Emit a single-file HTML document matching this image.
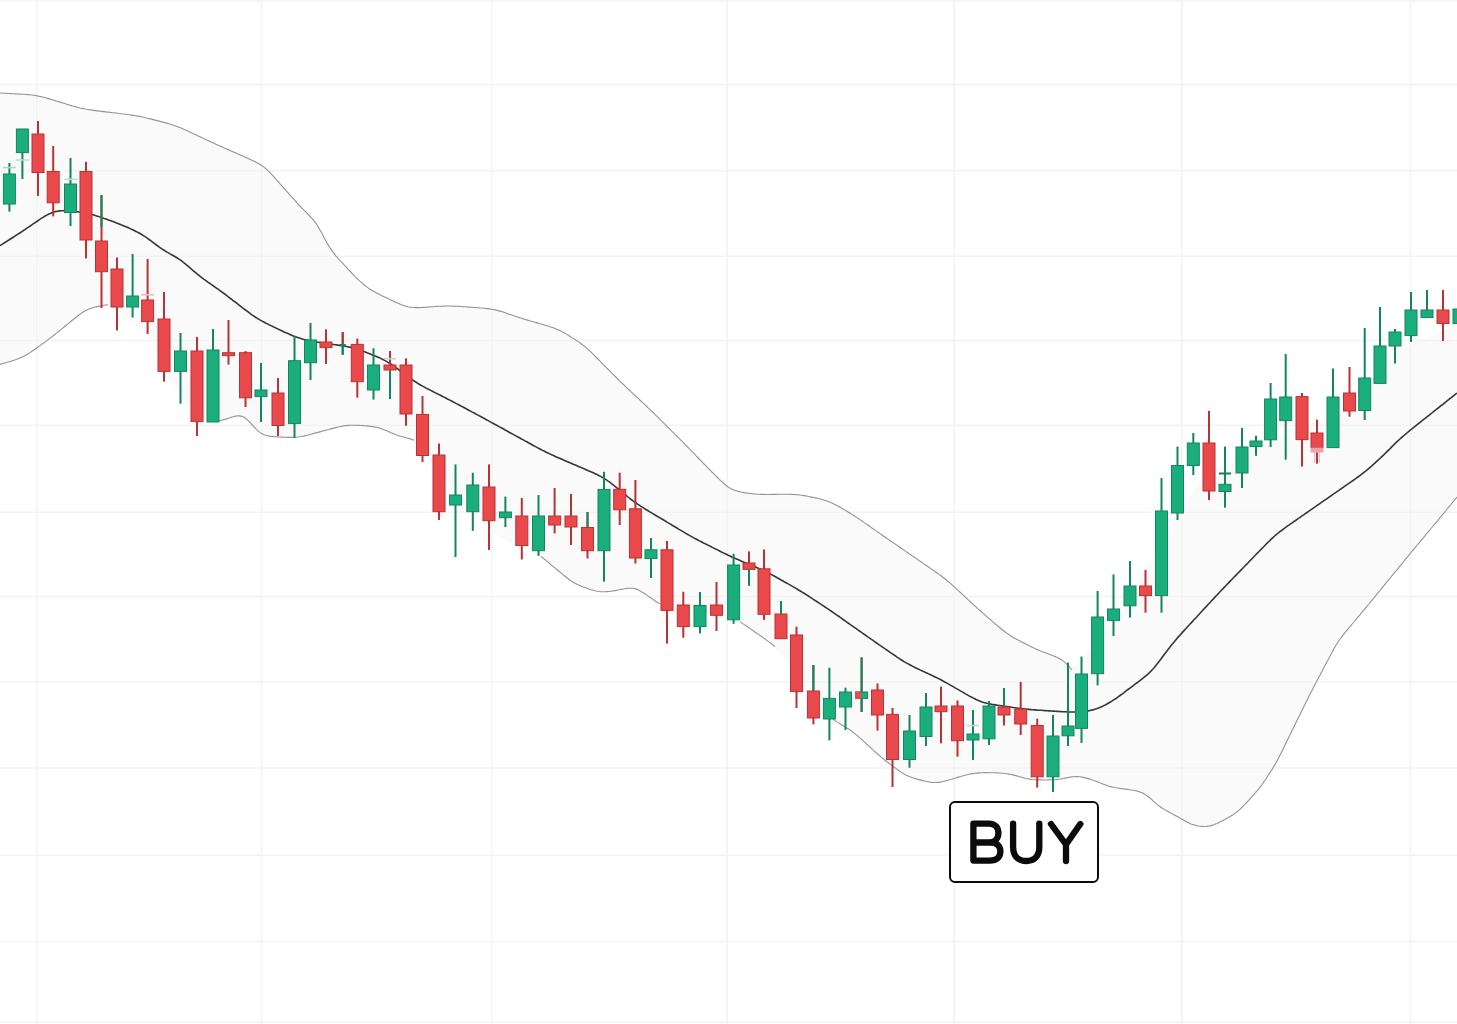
<!DOCTYPE html>
<html><head><meta charset="utf-8"><style>
html,body{margin:0;padding:0;background:#fff;width:1457px;height:1024px;overflow:hidden;position:relative}
.buy{position:absolute;left:949px;top:800.5px;width:150px;height:82px;box-sizing:border-box;border:2.2px solid #0b0b0b;border-radius:6px;background:#fff;}
.buy span{position:absolute;left:0;right:0;top:0;text-align:center;font-family:"Liberation Sans",sans-serif;font-weight:bold;font-size:58px;line-height:78px;color:transparent;}
</style></head><body>
<svg width="1457" height="1024" viewBox="0 0 1457 1024" style="position:absolute;left:0;top:0">
<rect width="1457" height="1024" fill="#ffffff"/>
<path d="M0.0,93.0 L4.3,93.2 L5.6,93.3 L7.0,93.4 L8.6,93.5 L10.4,93.6 L12.2,93.7 L14.1,93.8 L16.1,93.9 L18.0,94.0 L20.0,94.1 L22.0,94.2 L24.0,94.3 L26.0,94.5 L28.0,94.6 L30.0,94.8 L32.0,95.0 L33.9,95.3 L35.9,95.6 L37.8,96.0 L39.8,96.4 L41.7,96.8 L43.7,97.3 L45.6,97.8 L47.5,98.3 L49.4,98.9 L51.4,99.5 L53.3,100.1 L55.2,100.7 L57.1,101.3 L59.0,101.8 L60.9,102.4 L62.8,103.0 L64.7,103.6 L66.7,104.2 L68.6,104.8 L70.5,105.4 L72.4,105.9 L74.3,106.5 L76.3,107.0 L78.2,107.5 L80.1,108.0 L82.1,108.4 L84.0,108.8 L86.0,109.2 L88.0,109.5 L89.9,109.8 L91.9,110.1 L93.9,110.4 L95.9,110.6 L97.9,110.9 L99.9,111.1 L101.9,111.4 L103.8,111.6 L105.8,111.9 L107.8,112.1 L109.8,112.3 L111.8,112.6 L113.8,112.8 L115.8,113.0 L117.8,113.3 L119.8,113.5 L121.7,113.8 L123.7,114.0 L125.7,114.3 L127.7,114.5 L129.7,114.8 L131.7,115.1 L133.6,115.4 L135.6,115.7 L137.6,116.0 L139.6,116.4 L141.5,116.8 L143.5,117.2 L145.4,117.7 L147.4,118.1 L149.3,118.6 L151.3,119.1 L153.2,119.6 L155.1,120.1 L157.1,120.6 L159.0,121.1 L161.0,121.6 L162.9,122.1 L164.8,122.6 L166.8,123.1 L168.7,123.7 L170.6,124.2 L172.5,124.8 L174.4,125.5 L176.3,126.1 L178.1,126.9 L180.0,127.6 L181.8,128.4 L183.7,129.2 L185.5,130.0 L187.3,130.8 L189.1,131.6 L190.9,132.5 L192.7,133.3 L194.6,134.2 L196.4,135.1 L198.2,135.9 L200.0,136.8 L201.8,137.6 L203.6,138.5 L205.4,139.3 L207.2,140.2 L209.1,141.0 L210.9,141.9 L212.7,142.7 L214.5,143.5 L216.4,144.3 L218.2,145.2 L220.0,146.0 L221.8,146.8 L223.7,147.6 L225.5,148.4 L227.3,149.2 L229.2,150.1 L231.0,150.9 L232.8,151.7 L234.7,152.5 L236.5,153.3 L238.3,154.1 L240.2,154.9 L242.0,155.7 L243.8,156.6 L245.6,157.4 L247.5,158.2 L249.3,159.0 L251.1,159.8 L252.9,160.7 L254.7,161.6 L256.5,162.5 L258.2,163.4 L259.9,164.4 L261.6,165.4 L263.2,166.6 L264.7,167.8 L266.2,169.0 L267.7,170.3 L269.1,171.7 L270.5,173.1 L271.8,174.6 L273.2,176.0 L274.5,177.5 L275.9,179.0 L277.2,180.5 L278.5,182.0 L279.8,183.5 L281.2,185.0 L282.5,186.5 L283.8,188.1 L285.1,189.6 L286.4,191.1 L287.8,192.6 L289.1,194.1 L290.4,195.6 L291.7,197.1 L293.1,198.6 L294.4,200.1 L295.8,201.5 L297.1,203.0 L298.5,204.5 L299.9,205.9 L301.3,207.4 L302.7,208.8 L304.1,210.2 L305.5,211.6 L306.9,213.0 L308.3,214.4 L309.7,215.9 L311.0,217.3 L312.3,218.8 L313.6,220.3 L314.8,221.9 L316.0,223.5 L317.1,225.1 L318.2,226.8 L319.2,228.5 L320.2,230.2 L321.1,232.0 L322.1,233.7 L323.0,235.5 L324.0,237.3 L324.9,239.0 L325.9,240.8 L326.8,242.5 L327.8,244.3 L328.9,246.0 L329.9,247.6 L331.0,249.3 L332.1,250.9 L333.3,252.5 L334.5,254.1 L335.8,255.6 L337.1,257.1 L338.4,258.7 L339.7,260.1 L341.1,261.6 L342.4,263.1 L343.8,264.6 L345.2,266.0 L346.5,267.5 L347.9,269.0 L349.3,270.4 L350.6,271.9 L352.0,273.3 L353.4,274.8 L354.8,276.2 L356.2,277.7 L357.6,279.1 L359.1,280.4 L360.5,281.8 L362.0,283.1 L363.5,284.4 L365.1,285.6 L366.7,286.8 L368.3,288.0 L370.0,289.1 L371.6,290.1 L373.3,291.1 L375.1,292.1 L376.8,293.1 L378.6,294.0 L380.4,294.9 L382.2,295.8 L384.0,296.7 L385.8,297.5 L387.6,298.4 L389.4,299.3 L391.2,300.1 L393.0,301.0 L394.8,301.8 L396.6,302.6 L398.5,303.4 L400.3,304.2 L402.1,304.9 L404.0,305.6 L405.8,306.2 L407.7,306.7 L409.6,307.0 L411.5,307.3 L413.5,307.5 L415.4,307.6 L417.4,307.6 L419.3,307.6 L421.3,307.5 L423.3,307.4 L425.3,307.3 L427.3,307.1 L429.3,307.0 L431.3,306.8 L433.3,306.7 L435.3,306.5 L437.3,306.4 L439.3,306.3 L441.3,306.2 L443.3,306.1 L445.3,306.0 L447.3,306.0 L449.3,306.0 L451.3,306.0 L453.3,306.1 L455.3,306.2 L457.3,306.3 L459.3,306.4 L461.3,306.5 L463.3,306.6 L465.2,306.8 L467.2,306.9 L469.2,307.1 L471.2,307.2 L473.2,307.4 L475.2,307.5 L477.2,307.7 L479.2,307.8 L481.2,308.0 L483.2,308.2 L485.2,308.4 L487.2,308.6 L489.2,308.9 L491.1,309.1 L493.1,309.5 L495.0,309.9 L497.0,310.3 L498.9,310.8 L500.8,311.4 L502.7,311.9 L504.6,312.6 L506.5,313.2 L508.4,313.8 L510.3,314.5 L512.2,315.1 L514.1,315.8 L516.0,316.4 L517.9,317.1 L519.8,317.7 L521.7,318.3 L523.6,318.9 L525.5,319.5 L527.4,320.1 L529.3,320.6 L531.3,321.2 L533.2,321.8 L535.1,322.3 L537.0,322.9 L539.0,323.4 L540.9,324.0 L542.8,324.5 L544.7,325.1 L546.7,325.6 L548.6,326.2 L550.5,326.8 L552.4,327.5 L554.2,328.1 L556.1,328.8 L557.9,329.6 L559.7,330.4 L561.5,331.3 L563.2,332.2 L564.9,333.2 L566.6,334.3 L568.3,335.3 L570.0,336.4 L571.7,337.4 L573.4,338.5 L575.0,339.6 L576.7,340.6 L578.3,341.7 L580.0,342.8 L581.6,344.0 L583.2,345.2 L584.7,346.4 L586.2,347.7 L587.7,349.0 L589.2,350.4 L590.6,351.7 L592.0,353.1 L593.5,354.5 L594.9,355.9 L596.3,357.4 L597.7,358.8 L599.1,360.2 L600.5,361.6 L601.9,363.1 L603.3,364.5 L604.7,365.9 L606.1,367.3 L607.6,368.8 L609.0,370.2 L610.4,371.6 L611.8,373.0 L613.2,374.5 L614.6,375.9 L616.0,377.3 L617.5,378.7 L618.9,380.1 L620.3,381.5 L621.8,382.9 L623.2,384.3 L624.7,385.7 L626.1,387.0 L627.6,388.4 L629.0,389.8 L630.5,391.2 L631.9,392.5 L633.4,393.9 L634.9,395.3 L636.3,396.7 L637.8,398.0 L639.2,399.4 L640.7,400.8 L642.2,402.1 L643.6,403.5 L645.1,404.9 L646.5,406.3 L648.0,407.6 L649.4,409.0 L650.9,410.4 L652.3,411.8 L653.7,413.2 L655.2,414.6 L656.6,416.0 L658.0,417.4 L659.5,418.8 L660.9,420.2 L662.3,421.6 L663.7,423.1 L665.2,424.5 L666.6,425.9 L668.0,427.3 L669.4,428.7 L670.8,430.1 L672.3,431.5 L673.7,432.9 L675.1,434.4 L676.5,435.8 L677.9,437.2 L679.3,438.6 L680.8,440.0 L682.2,441.5 L683.6,442.9 L685.0,444.3 L686.4,445.8 L687.8,447.2 L689.2,448.6 L690.6,450.1 L691.9,451.5 L693.3,452.9 L694.7,454.4 L696.1,455.8 L697.5,457.3 L698.9,458.7 L700.3,460.1 L701.7,461.6 L703.1,463.0 L704.5,464.4 L705.9,465.9 L707.3,467.3 L708.7,468.7 L710.1,470.1 L711.6,471.6 L713.0,473.0 L714.4,474.4 L715.8,475.8 L717.2,477.2 L718.7,478.6 L720.1,480.0 L721.5,481.4 L723.0,482.7 L724.4,484.0 L725.9,485.3 L727.5,486.4 L729.1,487.5 L730.7,488.5 L732.4,489.3 L734.2,490.1 L736.0,490.7 L737.8,491.3 L739.7,491.8 L741.6,492.2 L743.6,492.5 L745.5,492.8 L747.5,493.1 L749.5,493.4 L751.5,493.6 L753.5,493.8 L755.4,494.0 L757.4,494.2 L759.4,494.3 L761.4,494.4 L763.4,494.4 L765.4,494.4 L767.4,494.5 L769.4,494.5 L771.4,494.4 L773.4,494.4 L775.4,494.4 L777.4,494.4 L779.4,494.3 L781.4,494.3 L783.4,494.3 L785.4,494.3 L787.4,494.3 L789.4,494.3 L791.4,494.4 L793.4,494.4 L795.4,494.6 L797.4,494.7 L799.4,495.0 L801.3,495.2 L803.3,495.5 L805.3,495.8 L807.3,496.2 L809.2,496.6 L811.2,497.0 L813.1,497.4 L815.1,497.8 L817.0,498.2 L819.0,498.7 L820.9,499.2 L822.8,499.7 L824.7,500.3 L826.6,500.9 L828.5,501.6 L830.3,502.3 L832.1,503.1 L833.9,504.0 L835.7,504.9 L837.4,505.8 L839.2,506.8 L840.9,507.7 L842.7,508.7 L844.4,509.7 L846.1,510.7 L847.9,511.8 L849.6,512.8 L851.3,513.9 L852.9,514.9 L854.6,516.0 L856.3,517.1 L858.0,518.3 L859.6,519.4 L861.3,520.5 L862.9,521.7 L864.6,522.8 L866.2,523.9 L867.8,525.1 L869.5,526.2 L871.1,527.4 L872.8,528.5 L874.4,529.7 L876.1,530.8 L877.7,532.0 L879.3,533.1 L881.0,534.3 L882.6,535.4 L884.3,536.6 L885.9,537.7 L887.6,538.8 L889.2,540.0 L890.9,541.1 L892.5,542.2 L894.2,543.4 L895.8,544.5 L897.5,545.6 L899.1,546.8 L900.8,547.9 L902.4,549.0 L904.1,550.2 L905.7,551.3 L907.4,552.5 L909.0,553.6 L910.7,554.7 L912.3,555.9 L914.0,557.0 L915.6,558.1 L917.3,559.3 L918.9,560.4 L920.6,561.5 L922.2,562.7 L923.9,563.8 L925.5,564.9 L927.2,566.1 L928.8,567.2 L930.5,568.3 L932.1,569.5 L933.8,570.6 L935.4,571.8 L937.1,572.9 L938.7,574.1 L940.3,575.2 L941.9,576.4 L943.5,577.7 L945.1,578.9 L946.6,580.2 L948.2,581.4 L949.7,582.7 L951.2,584.1 L952.7,585.4 L954.2,586.7 L955.6,588.1 L957.1,589.4 L958.6,590.8 L960.0,592.2 L961.5,593.5 L963.0,594.9 L964.4,596.3 L965.9,597.6 L967.4,599.0 L968.8,600.4 L970.3,601.7 L971.8,603.1 L973.3,604.4 L974.7,605.8 L976.2,607.1 L977.7,608.5 L979.2,609.8 L980.7,611.2 L982.2,612.5 L983.7,613.8 L985.2,615.1 L986.7,616.4 L988.2,617.8 L989.7,619.1 L991.2,620.4 L992.7,621.7 L994.3,623.0 L995.8,624.3 L997.3,625.6 L998.8,626.9 L1000.3,628.2 L1001.9,629.5 L1003.5,630.7 L1005.0,631.9 L1006.6,633.1 L1008.3,634.2 L1009.9,635.3 L1011.6,636.4 L1013.3,637.4 L1015.1,638.4 L1016.8,639.4 L1018.6,640.3 L1020.3,641.3 L1022.1,642.2 L1023.9,643.1 L1025.7,644.0 L1027.5,644.9 L1029.3,645.8 L1031.1,646.7 L1032.9,647.5 L1034.7,648.4 L1036.5,649.2 L1038.3,650.0 L1040.2,650.8 L1042.0,651.5 L1043.9,652.3 L1045.7,653.0 L1047.6,653.6 L1049.5,654.3 L1051.4,655.0 L1053.2,655.7 L1055.0,656.5 L1056.8,657.3 L1058.5,658.1 L1060.2,659.0 L1061.8,660.0 L1063.4,661.0 L1064.9,662.0 L1066.3,662.9 L1067.7,663.8 L1069.1,664.5 L1070.4,665.0 L1071.8,665.2 L1073.1,665.2 L1074.4,664.8 L1075.8,664.3 L1077.1,663.4 L1078.5,662.4 L1079.8,661.2 L1081.2,659.9 L1082.6,658.6 L1083.9,657.2 L1085.3,655.7 L1086.7,654.3 L1088.0,652.8 L1089.4,651.4 L1090.7,649.9 L1092.1,648.4 L1093.4,646.9 L1094.7,645.4 L1096.0,643.9 L1097.3,642.4 L1098.6,640.8 L1099.8,639.3 L1101.0,637.7 L1102.2,636.0 L1103.3,634.4 L1104.4,632.7 L1105.5,631.1 L1106.6,629.4 L1107.7,627.7 L1108.7,626.0 L1109.8,624.3 L1110.9,622.6 L1111.9,620.9 L1113.0,619.2 L1114.1,617.5 L1115.1,615.8 L1116.2,614.1 L1117.2,612.4 L1118.3,610.7 L1119.4,609.0 L1120.4,607.3 L1121.5,605.6 L1122.5,603.9 L1123.6,602.2 L1124.7,600.5 L1125.7,598.8 L1126.8,597.1 L1127.9,595.4 L1128.9,593.7 L1130.0,592.0 L1131.0,590.3 L1132.1,588.6 L1133.2,586.9 L1134.2,585.2 L1135.3,583.5 L1136.4,581.8 L1137.4,580.1 L1138.5,578.4 L1139.5,576.7 L1140.6,575.0 L1141.7,573.3 L1142.7,571.6 L1143.8,569.9 L1144.8,568.2 L1145.9,566.5 L1147.0,564.8 L1148.0,563.1 L1149.1,561.4 L1150.2,559.7 L1151.2,558.1 L1152.3,556.4 L1153.3,554.7 L1154.4,553.0 L1155.5,551.3 L1156.5,549.6 L1157.6,547.9 L1158.7,546.2 L1159.7,544.5 L1160.8,542.8 L1161.8,541.1 L1162.9,539.4 L1164.0,537.7 L1165.0,536.0 L1166.1,534.3 L1167.1,532.6 L1168.2,530.9 L1169.3,529.2 L1170.3,527.5 L1171.4,525.8 L1172.5,524.1 L1173.5,522.4 L1174.6,520.7 L1175.6,519.0 L1176.7,517.3 L1177.8,515.6 L1178.8,513.9 L1179.9,512.2 L1180.9,510.5 L1182.0,508.8 L1183.1,507.1 L1184.1,505.4 L1185.2,503.7 L1186.3,502.0 L1187.3,500.3 L1188.4,498.6 L1189.4,496.9 L1190.5,495.2 L1191.6,493.5 L1192.7,491.8 L1193.8,490.2 L1194.9,488.5 L1196.0,486.9 L1197.2,485.3 L1198.5,483.8 L1199.8,482.4 L1201.1,481.0 L1202.5,479.6 L1204.0,478.4 L1205.6,477.2 L1207.2,476.0 L1208.8,474.9 L1210.5,473.8 L1212.2,472.8 L1213.9,471.7 L1215.6,470.7 L1217.3,469.6 L1219.0,468.6 L1220.7,467.6 L1222.4,466.5 L1224.2,465.5 L1225.9,464.5 L1227.6,463.4 L1229.3,462.4 L1231.0,461.4 L1232.7,460.4 L1234.5,459.3 L1236.2,458.3 L1237.9,457.3 L1239.6,456.3 L1241.4,455.3 L1243.1,454.3 L1244.8,453.3 L1246.6,452.3 L1248.4,451.4 L1250.1,450.5 L1251.9,449.6 L1253.7,448.8 L1255.6,448.0 L1257.4,447.2 L1259.2,446.4 L1261.1,445.6 L1262.9,444.8 L1264.8,444.1 L1266.7,443.3 L1268.5,442.6 L1270.4,441.9 L1272.2,441.1 L1274.1,440.4 L1276.0,439.6 L1277.8,438.9 L1279.7,438.1 L1281.5,437.4 L1283.4,436.6 L1285.3,435.9 L1287.1,435.1 L1289.0,434.4 L1290.8,433.6 L1292.7,432.9 L1294.5,432.1 L1296.4,431.3 L1298.2,430.5 L1300.0,429.7 L1301.8,428.9 L1303.7,428.0 L1305.5,427.2 L1307.3,426.3 L1309.1,425.4 L1310.9,424.5 L1312.7,423.7 L1314.5,422.8 L1316.3,421.9 L1318.0,421.0 L1319.8,420.1 L1321.6,419.2 L1323.4,418.3 L1325.2,417.4 L1327.0,416.5 L1328.8,415.6 L1330.6,414.7 L1332.4,413.8 L1334.2,412.9 L1336.0,412.0 L1337.7,411.1 L1339.5,410.2 L1341.2,409.2 L1343.0,408.2 L1344.7,407.2 L1346.3,406.2 L1348.0,405.0 L1349.6,403.9 L1351.1,402.6 L1352.6,401.4 L1354.1,400.0 L1355.5,398.6 L1356.9,397.2 L1358.3,395.8 L1359.6,394.3 L1361.0,392.9 L1362.4,391.4 L1363.7,389.9 L1365.1,388.4 L1366.4,387.0 L1367.7,385.5 L1369.1,384.0 L1370.4,382.5 L1371.8,381.0 L1373.1,379.5 L1374.5,378.1 L1375.8,376.6 L1377.2,375.1 L1378.5,373.6 L1379.9,372.1 L1381.2,370.7 L1382.6,369.2 L1383.9,367.7 L1385.3,366.2 L1386.6,364.7 L1388.0,363.3 L1389.3,361.8 L1390.7,360.3 L1392.1,358.9 L1393.5,357.4 L1394.9,356.1 L1396.3,354.7 L1397.8,353.4 L1399.3,352.2 L1400.9,351.0 L1402.5,349.9 L1404.2,348.8 L1405.9,347.9 L1407.6,346.9 L1409.4,346.0 L1411.2,345.2 L1413.0,344.4 L1414.8,343.5 L1416.6,342.7 L1418.5,341.9 L1420.3,341.1 L1422.1,340.3 L1424.0,339.5 L1425.8,338.7 L1427.6,337.9 L1429.5,337.1 L1431.3,336.3 L1433.1,335.5 L1435.0,334.7 L1436.8,333.9 L1438.6,333.1 L1440.5,332.3 L1442.3,331.5 L1444.1,330.7 L1445.8,329.9 L1447.5,329.2 L1449.1,328.5 L1450.6,327.8 L1451.9,327.2 L1453.1,326.7 L1457.0,325.0 L1457.0,497.0 L1454.6,500.0 L1453.7,501.0 L1452.8,502.2 L1451.7,503.5 L1450.5,504.9 L1449.3,506.4 L1448.1,507.9 L1446.9,509.4 L1445.6,511.0 L1444.3,512.5 L1443.0,514.1 L1441.8,515.6 L1440.5,517.2 L1439.2,518.7 L1437.9,520.2 L1436.6,521.8 L1435.4,523.3 L1434.1,524.9 L1432.8,526.4 L1431.5,527.9 L1430.2,529.5 L1429.0,531.0 L1427.7,532.6 L1426.4,534.1 L1425.1,535.6 L1423.8,537.2 L1422.5,538.7 L1421.3,540.3 L1420.0,541.8 L1418.7,543.3 L1417.4,544.9 L1416.1,546.4 L1414.9,548.0 L1413.6,549.5 L1412.3,551.1 L1411.0,552.6 L1409.7,554.1 L1408.5,555.7 L1407.2,557.2 L1405.9,558.8 L1404.6,560.3 L1403.4,561.9 L1402.1,563.4 L1400.8,565.0 L1399.6,566.5 L1398.3,568.1 L1397.0,569.6 L1395.8,571.2 L1394.5,572.7 L1393.2,574.3 L1391.9,575.8 L1390.7,577.4 L1389.4,578.9 L1388.1,580.5 L1386.9,582.0 L1385.6,583.6 L1384.3,585.1 L1383.1,586.7 L1381.8,588.2 L1380.5,589.8 L1379.2,591.3 L1378.0,592.9 L1376.7,594.4 L1375.4,596.0 L1374.2,597.5 L1372.9,599.1 L1371.6,600.6 L1370.4,602.2 L1369.1,603.7 L1367.8,605.3 L1366.5,606.8 L1365.3,608.4 L1364.0,609.9 L1362.7,611.5 L1361.4,613.0 L1360.1,614.5 L1358.8,616.1 L1357.6,617.6 L1356.3,619.1 L1355.0,620.7 L1353.7,622.2 L1352.4,623.8 L1351.1,625.3 L1349.8,626.8 L1348.6,628.4 L1347.3,629.9 L1346.0,631.5 L1344.7,633.0 L1343.5,634.6 L1342.2,636.1 L1341.0,637.7 L1339.9,639.3 L1338.7,641.0 L1337.6,642.6 L1336.6,644.3 L1335.5,646.0 L1334.5,647.8 L1333.6,649.5 L1332.6,651.3 L1331.6,653.0 L1330.7,654.8 L1329.8,656.6 L1328.8,658.3 L1327.9,660.1 L1326.9,661.9 L1326.0,663.6 L1325.1,665.4 L1324.1,667.2 L1323.2,669.0 L1322.3,670.7 L1321.3,672.5 L1320.4,674.3 L1319.4,676.0 L1318.5,677.8 L1317.6,679.6 L1316.6,681.4 L1315.7,683.1 L1314.8,684.9 L1313.8,686.7 L1312.9,688.5 L1312.0,690.2 L1311.1,692.0 L1310.2,693.8 L1309.3,695.6 L1308.4,697.4 L1307.5,699.2 L1306.6,701.0 L1305.7,702.8 L1304.8,704.6 L1303.9,706.4 L1303.1,708.2 L1302.2,710.0 L1301.3,711.8 L1300.4,713.6 L1299.5,715.4 L1298.7,717.2 L1297.8,719.0 L1296.9,720.8 L1296.0,722.6 L1295.1,724.4 L1294.2,726.2 L1293.4,728.0 L1292.5,729.8 L1291.6,731.6 L1290.7,733.4 L1289.8,735.2 L1289.0,737.0 L1288.1,738.8 L1287.2,740.6 L1286.3,742.4 L1285.4,744.2 L1284.5,746.0 L1283.7,747.8 L1282.8,749.6 L1281.9,751.4 L1281.0,753.2 L1280.1,755.0 L1279.2,756.7 L1278.3,758.5 L1277.4,760.3 L1276.4,762.1 L1275.4,763.8 L1274.4,765.5 L1273.4,767.2 L1272.4,769.0 L1271.3,770.6 L1270.2,772.3 L1269.1,774.0 L1268.0,775.7 L1266.9,777.4 L1265.8,779.0 L1264.7,780.7 L1263.6,782.4 L1262.4,784.0 L1261.2,785.6 L1260.0,787.2 L1258.8,788.8 L1257.6,790.3 L1256.3,791.8 L1255.0,793.4 L1253.6,794.9 L1252.3,796.3 L1250.9,797.8 L1249.6,799.3 L1248.2,800.8 L1246.9,802.3 L1245.5,803.7 L1244.1,805.2 L1242.7,806.6 L1241.3,808.0 L1239.9,809.4 L1238.4,810.7 L1236.9,811.9 L1235.3,813.1 L1233.7,814.3 L1232.0,815.4 L1230.3,816.4 L1228.6,817.4 L1226.9,818.4 L1225.1,819.3 L1223.4,820.3 L1221.6,821.2 L1219.8,822.1 L1218.0,823.0 L1216.2,823.8 L1214.4,824.5 L1212.6,825.2 L1210.8,825.7 L1208.9,826.1 L1207.0,826.3 L1205.1,826.5 L1203.1,826.5 L1201.2,826.4 L1199.2,826.1 L1197.3,825.8 L1195.4,825.4 L1193.6,824.8 L1191.7,824.2 L1189.9,823.5 L1188.1,822.6 L1186.4,821.7 L1184.6,820.8 L1182.9,819.8 L1181.2,818.8 L1179.4,817.8 L1177.7,816.8 L1175.9,815.8 L1174.2,814.9 L1172.4,813.9 L1170.7,813.0 L1168.9,812.0 L1167.2,811.1 L1165.4,810.1 L1163.7,809.1 L1162.0,808.0 L1160.4,806.9 L1158.8,805.8 L1157.2,804.5 L1155.7,803.3 L1154.2,802.0 L1152.8,800.6 L1151.3,799.3 L1149.9,798.0 L1148.3,796.7 L1146.8,795.6 L1145.2,794.5 L1143.5,793.5 L1141.8,792.7 L1140.0,792.0 L1138.1,791.4 L1136.2,790.9 L1134.3,790.5 L1132.3,790.1 L1130.4,789.8 L1128.4,789.5 L1126.4,789.3 L1124.4,789.0 L1122.4,788.8 L1120.5,788.5 L1118.5,788.2 L1116.5,787.9 L1114.6,787.5 L1112.6,787.1 L1110.7,786.7 L1108.8,786.1 L1107.0,785.5 L1105.1,784.8 L1103.3,784.1 L1101.4,783.4 L1099.6,782.6 L1097.8,781.9 L1095.9,781.2 L1094.0,780.5 L1092.1,779.9 L1090.2,779.3 L1088.3,778.7 L1086.4,778.2 L1084.5,777.7 L1082.6,777.2 L1080.7,776.9 L1078.7,776.7 L1076.8,776.6 L1074.9,776.6 L1073.0,776.7 L1071.1,777.0 L1069.1,777.3 L1067.2,777.7 L1065.3,778.1 L1063.3,778.5 L1061.4,778.9 L1059.4,779.2 L1057.4,779.4 L1055.5,779.6 L1053.5,779.8 L1051.5,779.9 L1049.5,779.9 L1047.5,780.0 L1045.5,780.0 L1043.5,780.0 L1041.5,780.0 L1039.5,779.9 L1037.5,779.9 L1035.5,779.7 L1033.5,779.6 L1031.6,779.4 L1029.6,779.1 L1027.6,778.7 L1025.7,778.3 L1023.8,777.9 L1021.8,777.3 L1019.9,776.8 L1018.0,776.3 L1016.1,775.8 L1014.2,775.2 L1012.2,774.8 L1010.3,774.4 L1008.3,774.0 L1006.4,773.7 L1004.4,773.5 L1002.4,773.3 L1000.4,773.1 L998.4,773.0 L996.4,772.9 L994.4,772.8 L992.4,772.7 L990.4,772.7 L988.4,772.6 L986.4,772.6 L984.4,772.6 L982.4,772.7 L980.4,772.8 L978.4,772.9 L976.5,773.1 L974.5,773.4 L972.5,773.7 L970.5,774.0 L968.6,774.4 L966.7,774.9 L964.7,775.4 L962.8,775.9 L960.9,776.4 L958.9,777.0 L957.0,777.6 L955.1,778.2 L953.2,778.7 L951.3,779.3 L949.4,779.9 L947.4,780.4 L945.5,781.0 L943.6,781.4 L941.7,781.9 L939.8,782.2 L937.8,782.4 L935.9,782.5 L934.0,782.5 L932.0,782.3 L930.1,782.1 L928.2,781.8 L926.2,781.4 L924.3,780.9 L922.4,780.5 L920.4,780.0 L918.5,779.5 L916.6,778.9 L914.6,778.4 L912.8,777.8 L910.9,777.1 L909.1,776.4 L907.3,775.6 L905.5,774.7 L903.8,773.8 L902.1,772.7 L900.4,771.7 L898.8,770.5 L897.1,769.4 L895.5,768.2 L893.9,767.0 L892.3,765.8 L890.7,764.6 L889.1,763.4 L887.5,762.2 L885.9,761.0 L884.4,759.7 L882.8,758.5 L881.3,757.2 L879.8,755.9 L878.3,754.6 L876.8,753.2 L875.3,751.9 L873.8,750.5 L872.3,749.2 L870.8,747.8 L869.3,746.5 L867.9,745.1 L866.4,743.8 L864.9,742.4 L863.4,741.1 L861.9,739.7 L860.5,738.4 L859.0,737.1 L857.5,735.8 L855.9,734.5 L854.4,733.2 L852.8,732.0 L851.2,730.8 L849.5,729.7 L847.9,728.6 L846.2,727.6 L844.5,726.5 L842.8,725.5 L841.1,724.4 L839.5,723.3 L837.8,722.2 L836.3,721.0 L834.7,719.8 L833.3,718.5 L831.9,717.1 L830.5,715.6 L829.2,714.2 L827.9,712.7 L826.6,711.1 L825.4,709.6 L824.1,708.0 L822.8,706.5 L821.6,704.9 L820.3,703.3 L819.1,701.8 L817.8,700.2 L816.6,698.6 L815.3,697.1 L814.1,695.5 L812.8,694.0 L811.5,692.4 L810.3,690.8 L809.0,689.3 L807.8,687.7 L806.5,686.1 L805.3,684.6 L804.0,683.0 L802.8,681.4 L801.5,679.9 L800.3,678.3 L799.0,676.8 L797.8,675.2 L796.5,673.6 L795.3,672.0 L794.0,670.5 L792.8,668.9 L791.5,667.3 L790.3,665.8 L789.0,664.2 L787.8,662.6 L786.5,661.1 L785.3,659.5 L784.0,657.9 L782.8,656.4 L781.5,654.8 L780.3,653.3 L779.0,651.7 L777.7,650.2 L776.3,648.8 L775.0,647.3 L773.6,645.9 L772.1,644.6 L770.6,643.3 L769.0,642.0 L767.5,640.8 L765.9,639.6 L764.3,638.5 L762.6,637.3 L761.0,636.1 L759.3,635.0 L757.7,633.9 L756.0,632.7 L754.4,631.6 L752.7,630.4 L751.1,629.3 L749.4,628.2 L747.8,627.1 L746.1,626.1 L744.4,625.1 L742.6,624.1 L740.9,623.3 L739.0,622.5 L737.2,621.8 L735.3,621.2 L733.4,620.6 L731.5,620.1 L729.6,619.6 L727.6,619.2 L725.7,618.7 L723.7,618.3 L721.8,617.8 L719.8,617.4 L717.9,617.0 L715.9,616.5 L714.0,616.1 L712.0,615.7 L710.0,615.2 L708.1,614.8 L706.1,614.4 L704.2,613.9 L702.2,613.5 L700.3,613.0 L698.3,612.6 L696.3,612.2 L694.4,611.7 L692.4,611.3 L690.5,610.8 L688.5,610.4 L686.6,610.0 L684.6,609.5 L682.7,609.1 L680.7,608.6 L678.8,608.2 L676.8,607.7 L674.8,607.3 L672.9,606.8 L671.0,606.4 L669.0,605.9 L667.1,605.4 L665.2,604.8 L663.3,604.2 L661.4,603.6 L659.6,602.8 L657.8,602.0 L656.1,601.1 L654.4,600.2 L652.7,599.1 L651.0,598.0 L649.4,596.9 L647.7,595.8 L646.1,594.7 L644.4,593.5 L642.8,592.5 L641.1,591.4 L639.5,590.5 L637.8,589.7 L636.1,589.0 L634.3,588.5 L632.5,588.2 L630.7,588.1 L628.9,588.2 L627.0,588.4 L625.1,588.7 L623.2,589.0 L621.2,589.4 L619.3,589.8 L617.3,590.2 L615.4,590.6 L613.4,590.9 L611.4,591.2 L609.4,591.4 L607.5,591.6 L605.5,591.8 L603.6,591.8 L601.6,591.8 L599.7,591.6 L597.7,591.3 L595.8,591.0 L593.9,590.5 L592.0,590.0 L590.1,589.4 L588.2,588.7 L586.4,588.1 L584.5,587.4 L582.6,586.7 L580.8,586.0 L578.9,585.2 L577.1,584.4 L575.4,583.5 L573.6,582.5 L572.0,581.5 L570.3,580.4 L568.7,579.2 L567.1,578.0 L565.6,576.8 L564.0,575.5 L562.5,574.3 L560.9,573.0 L559.4,571.7 L557.9,570.4 L556.3,569.1 L554.8,567.8 L553.3,566.5 L551.7,565.2 L550.2,564.0 L548.6,562.7 L547.1,561.5 L545.5,560.3 L543.9,559.1 L542.2,558.0 L540.5,556.9 L538.8,555.9 L537.1,555.0 L535.3,554.0 L533.5,553.1 L531.7,552.2 L529.9,551.4 L528.1,550.5 L526.3,549.7 L524.5,548.8 L522.7,548.0 L520.9,547.1 L519.1,546.3 L517.2,545.4 L515.4,544.6 L513.6,543.7 L511.8,542.9 L510.0,542.0 L508.2,541.2 L506.4,540.3 L504.6,539.4 L502.8,538.5 L501.0,537.6 L499.3,536.6 L497.6,535.6 L496.0,534.5 L494.4,533.3 L492.8,532.1 L491.3,530.8 L489.9,529.5 L488.4,528.1 L487.0,526.7 L485.6,525.3 L484.2,523.9 L482.8,522.4 L481.4,521.0 L480.0,519.6 L478.6,518.1 L477.2,516.7 L475.8,515.3 L474.4,513.8 L473.0,512.4 L471.6,511.0 L470.2,509.5 L468.8,508.1 L467.4,506.7 L466.0,505.2 L464.6,503.8 L463.2,502.3 L461.8,500.9 L460.4,499.4 L459.1,498.0 L457.7,496.5 L456.4,495.0 L455.1,493.5 L453.8,491.9 L452.6,490.4 L451.3,488.8 L450.1,487.2 L448.8,485.7 L447.6,484.1 L446.4,482.5 L445.2,480.9 L444.0,479.3 L442.7,477.7 L441.5,476.1 L440.3,474.5 L439.1,473.0 L437.8,471.4 L436.6,469.8 L435.4,468.2 L434.2,466.6 L433.0,465.0 L431.7,463.4 L430.5,461.8 L429.3,460.2 L428.1,458.6 L426.9,457.1 L425.6,455.5 L424.4,453.9 L423.2,452.3 L422.0,450.7 L420.7,449.2 L419.5,447.6 L418.2,446.1 L416.9,444.7 L415.5,443.4 L414.1,442.1 L412.5,441.0 L410.9,440.1 L409.2,439.2 L407.5,438.5 L405.7,437.8 L403.8,437.2 L401.9,436.7 L400.1,436.1 L398.2,435.5 L396.3,434.8 L394.4,434.1 L392.6,433.4 L390.7,432.6 L388.9,431.8 L387.1,431.0 L385.3,430.2 L383.4,429.5 L381.6,428.8 L379.7,428.2 L377.8,427.6 L375.9,427.2 L374.0,426.8 L372.0,426.5 L370.0,426.2 L368.0,426.0 L366.1,425.9 L364.1,425.7 L362.1,425.6 L360.1,425.5 L358.1,425.4 L356.1,425.3 L354.1,425.2 L352.1,425.2 L350.1,425.3 L348.1,425.4 L346.2,425.6 L344.2,425.9 L342.3,426.2 L340.3,426.6 L338.4,427.0 L336.4,427.5 L334.5,428.0 L332.5,428.5 L330.6,429.0 L328.7,429.5 L326.7,430.0 L324.8,430.5 L322.9,431.1 L320.9,431.6 L319.0,432.1 L317.1,432.6 L315.1,433.1 L313.2,433.7 L311.3,434.2 L309.3,434.7 L307.4,435.2 L305.4,435.6 L303.5,436.1 L301.5,436.4 L299.6,436.8 L297.6,437.0 L295.7,437.2 L293.7,437.4 L291.7,437.4 L289.7,437.4 L287.7,437.4 L285.7,437.3 L283.7,437.2 L281.7,437.1 L279.7,437.0 L277.7,436.9 L275.7,436.8 L273.8,436.6 L271.8,436.4 L269.9,436.2 L268.0,435.8 L266.1,435.4 L264.4,434.8 L262.7,434.1 L261.1,433.2 L259.5,432.1 L258.1,430.9 L256.6,429.6 L255.3,428.2 L253.9,426.8 L252.6,425.3 L251.3,423.9 L249.9,422.4 L248.6,421.0 L247.3,419.7 L245.9,418.5 L244.4,417.5 L243.0,416.7 L241.4,416.2 L239.8,415.9 L238.1,415.8 L236.4,416.0 L234.6,416.3 L232.8,416.8 L231.0,417.4 L229.1,418.0 L227.3,418.6 L225.4,419.2 L223.5,419.8 L221.6,420.2 L219.7,420.6 L217.7,420.8 L215.8,421.0 L213.9,421.0 L211.9,420.9 L210.0,420.8 L208.1,420.5 L206.2,420.1 L204.4,419.6 L202.6,418.9 L201.0,418.1 L199.4,417.2 L197.9,416.1 L196.4,414.8 L195.0,413.5 L193.7,412.1 L192.4,410.6 L191.1,409.1 L189.8,407.5 L188.6,406.0 L187.3,404.4 L186.1,402.8 L184.9,401.3 L183.7,399.7 L182.5,398.0 L181.4,396.4 L180.2,394.7 L179.1,393.1 L178.1,391.4 L177.0,389.7 L175.9,388.0 L174.9,386.3 L173.8,384.6 L172.8,382.8 L171.8,381.1 L170.7,379.4 L169.7,377.7 L168.7,376.0 L167.7,374.2 L166.7,372.5 L165.7,370.7 L164.8,369.0 L163.9,367.2 L163.0,365.4 L162.1,363.6 L161.2,361.8 L160.3,360.0 L159.5,358.2 L158.6,356.4 L157.8,354.6 L156.9,352.8 L156.1,351.0 L155.2,349.2 L154.3,347.4 L153.4,345.6 L152.5,343.8 L151.5,342.1 L150.5,340.4 L149.4,338.8 L148.2,337.2 L147.0,335.6 L145.7,334.1 L144.4,332.6 L143.0,331.2 L141.7,329.7 L140.3,328.3 L138.8,326.9 L137.4,325.5 L136.0,324.1 L134.5,322.7 L133.0,321.4 L131.5,320.1 L130.0,318.8 L128.4,317.6 L126.8,316.5 L125.1,315.3 L123.5,314.2 L121.8,313.2 L120.1,312.1 L118.4,311.1 L116.6,310.2 L114.9,309.2 L113.1,308.4 L111.4,307.7 L109.6,307.1 L107.7,306.6 L105.9,306.3 L104.0,306.1 L102.1,306.1 L100.2,306.3 L98.3,306.5 L96.3,306.8 L94.4,307.3 L92.5,307.8 L90.7,308.4 L88.8,309.1 L87.1,309.9 L85.3,310.8 L83.6,311.7 L82.0,312.8 L80.4,313.9 L78.8,315.1 L77.2,316.3 L75.6,317.6 L74.1,318.8 L72.5,320.1 L71.0,321.4 L69.4,322.6 L67.9,323.9 L66.3,325.2 L64.8,326.4 L63.2,327.7 L61.7,329.0 L60.1,330.2 L58.6,331.5 L57.0,332.8 L55.4,334.0 L53.9,335.3 L52.3,336.5 L50.7,337.7 L49.1,338.9 L47.5,340.1 L45.9,341.3 L44.3,342.5 L42.7,343.7 L41.0,344.9 L39.4,346.0 L37.8,347.2 L36.1,348.3 L34.5,349.5 L32.9,350.6 L31.2,351.8 L29.6,352.9 L27.9,353.9 L26.2,355.0 L24.4,355.9 L22.7,356.8 L20.9,357.7 L19.1,358.4 L17.2,359.1 L15.3,359.8 L13.5,360.4 L11.6,361.0 L9.8,361.5 L8.1,362.0 L6.5,362.5 L5.0,362.9 L3.7,363.3 L0.0,364.4 Z" fill="#fafafa"/>
<line x1="36.7" y1="0" x2="36.7" y2="1024" stroke="#f3f3f3" stroke-width="1.5"/>
<line x1="261.5" y1="0" x2="261.5" y2="1024" stroke="#f3f3f3" stroke-width="1.5"/>
<line x1="491.7" y1="0" x2="491.7" y2="1024" stroke="#f3f3f3" stroke-width="1.5"/>
<line x1="727.2" y1="0" x2="727.2" y2="1024" stroke="#f3f3f3" stroke-width="1.5"/>
<line x1="954.2" y1="0" x2="954.2" y2="1024" stroke="#f3f3f3" stroke-width="1.5"/>
<line x1="1181.8" y1="0" x2="1181.8" y2="1024" stroke="#f3f3f3" stroke-width="1.5"/>
<line x1="1410.5" y1="0" x2="1410.5" y2="1024" stroke="#f3f3f3" stroke-width="1.5"/>
<line x1="0" y1="1.0" x2="1457" y2="1.0" stroke="#f3f3f3" stroke-width="1.5"/>
<line x1="0" y1="84.6" x2="1457" y2="84.6" stroke="#f3f3f3" stroke-width="1.5"/>
<line x1="0" y1="170.7" x2="1457" y2="170.7" stroke="#f3f3f3" stroke-width="1.5"/>
<line x1="0" y1="256.3" x2="1457" y2="256.3" stroke="#f3f3f3" stroke-width="1.5"/>
<line x1="0" y1="340.5" x2="1457" y2="340.5" stroke="#f3f3f3" stroke-width="1.5"/>
<line x1="0" y1="425.3" x2="1457" y2="425.3" stroke="#f3f3f3" stroke-width="1.5"/>
<line x1="0" y1="512.3" x2="1457" y2="512.3" stroke="#f3f3f3" stroke-width="1.5"/>
<line x1="0" y1="596.5" x2="1457" y2="596.5" stroke="#f3f3f3" stroke-width="1.5"/>
<line x1="0" y1="681.8" x2="1457" y2="681.8" stroke="#f3f3f3" stroke-width="1.5"/>
<line x1="0" y1="768.0" x2="1457" y2="768.0" stroke="#f3f3f3" stroke-width="1.5"/>
<line x1="0" y1="855.3" x2="1457" y2="855.3" stroke="#f3f3f3" stroke-width="1.5"/>
<line x1="0" y1="941.4" x2="1457" y2="941.4" stroke="#f3f3f3" stroke-width="1.5"/>
<line x1="0" y1="1022.3" x2="1457" y2="1022.3" stroke="#f3f3f3" stroke-width="1.5"/>
<path d="M0.0,93.0 L4.3,93.2 L5.6,93.3 L7.0,93.4 L8.6,93.5 L10.4,93.6 L12.2,93.7 L14.1,93.8 L16.1,93.9 L18.0,94.0 L20.0,94.1 L22.0,94.2 L24.0,94.3 L26.0,94.5 L28.0,94.6 L30.0,94.8 L32.0,95.0 L33.9,95.3 L35.9,95.6 L37.9,96.0 L39.8,96.4 L41.8,96.8 L43.7,97.3 L45.6,97.8 L47.5,98.4 L49.5,98.9 L51.4,99.5 L53.3,100.1 L55.2,100.7 L57.1,101.3 L59.0,101.9 L60.9,102.4 L62.9,103.0 L64.8,103.6 L66.7,104.2 L68.6,104.8 L70.5,105.4 L72.4,106.0 L74.4,106.5 L76.3,107.0 L78.2,107.5 L80.2,108.0 L82.1,108.4 L84.1,108.8 L86.0,109.2 L88.0,109.5 L90.0,109.8 L92.0,110.1 L93.9,110.4 L95.9,110.6 L97.9,110.9 L99.9,111.1 L101.9,111.4 L103.9,111.6 L105.9,111.9 L107.9,112.1 L109.9,112.3 L111.9,112.6 L113.8,112.8 L115.8,113.0 L117.8,113.3 L119.8,113.5 L121.8,113.8 L123.8,114.0 L125.8,114.3 L127.8,114.5 L129.7,114.8 L131.7,115.1 L133.7,115.4 L135.7,115.7 L137.6,116.1 L139.6,116.4 L141.6,116.8 L143.5,117.3 L145.5,117.7 L147.4,118.2 L149.4,118.6 L151.3,119.1 L153.3,119.6 L155.2,120.1 L157.1,120.6 L159.1,121.1 L161.0,121.6 L163.0,122.1 L164.9,122.6 L166.8,123.1 L168.8,123.7 L170.7,124.3 L172.6,124.9 L174.5,125.5 L176.3,126.2 L178.2,126.9 L180.1,127.6 L181.9,128.4 L183.7,129.2 L185.6,130.0 L187.4,130.8 L189.2,131.7 L191.0,132.5 L192.8,133.4 L194.6,134.2 L196.5,135.1 L198.3,136.0 L200.1,136.8 L201.9,137.7 L203.7,138.5 L205.5,139.4 L207.3,140.2 L209.2,141.1 L211.0,141.9 L212.8,142.7 L214.6,143.6 L216.4,144.4 L218.3,145.2 L220.1,146.0 L221.9,146.8 L223.8,147.7 L225.6,148.5 L227.4,149.3 L229.3,150.1 L231.1,150.9 L232.9,151.7 L234.8,152.5 L236.6,153.3 L238.4,154.2 L240.3,155.0 L242.1,155.8 L243.9,156.6 L245.7,157.4 L247.6,158.2 L249.4,159.1 L251.2,159.9 L253.0,160.7 L254.8,161.6 L256.6,162.5 L258.3,163.5 L260.0,164.5 L261.7,165.5 L263.3,166.6 L264.8,167.8 L266.3,169.1 L267.8,170.4 L269.2,171.8 L270.6,173.2 L271.9,174.7 L273.3,176.1 L274.6,177.6 L275.9,179.1 L277.3,180.6 L278.6,182.1 L279.9,183.6 L281.2,185.1 L282.6,186.6 L283.9,188.2 L285.2,189.7 L286.5,191.2 L287.9,192.7 L289.2,194.2 L290.5,195.7 L291.8,197.2 L293.2,198.7 L294.5,200.2 L295.9,201.6 L297.2,203.1 L298.6,204.6 L300.0,206.0 L301.4,207.5 L302.8,208.9 L304.2,210.3 L305.6,211.7 L307.0,213.1 L308.4,214.5 L309.8,216.0 L311.1,217.4 L312.4,218.9 L313.7,220.4 L314.9,222.0 L316.1,223.6 L317.2,225.3 L318.2,226.9 L319.3,228.6 L320.2,230.4 L321.2,232.1 L322.2,233.9 L323.1,235.6 L324.0,237.4 L325.0,239.2 L325.9,240.9 L326.9,242.7 L327.9,244.4 L328.9,246.1 L330.0,247.8 L331.1,249.4 L332.2,251.1 L333.4,252.7 L334.7,254.2 L335.9,255.8 L337.2,257.3 L338.5,258.8 L339.9,260.3 L341.2,261.8 L342.6,263.2 L343.9,264.7 L345.3,266.2 L346.7,267.6 L348.0,269.1 L349.4,270.6 L350.8,272.0 L352.1,273.5 L353.5,274.9 L354.9,276.4 L356.3,277.8 L357.7,279.2 L359.2,280.6 L360.7,281.9 L362.2,283.2 L363.7,284.5 L365.2,285.7 L366.8,286.9 L368.5,288.1 L370.1,289.2 L371.8,290.2 L373.5,291.2 L375.3,292.2 L377.0,293.2 L378.8,294.1 L380.6,295.0 L382.4,295.9 L384.2,296.7 L386.0,297.6 L387.8,298.5 L389.6,299.3 L391.4,300.2 L393.2,301.0 L395.0,301.9 L396.8,302.7 L398.7,303.5 L400.5,304.3 L402.3,305.0 L404.2,305.6 L406.0,306.2 L407.9,306.7 L409.8,307.1 L411.7,307.3 L413.7,307.5 L415.6,307.6 L417.6,307.6 L419.6,307.6 L421.5,307.5 L423.5,307.4 L425.5,307.3 L427.5,307.1 L429.5,307.0 L431.5,306.8 L433.5,306.7 L435.5,306.5 L437.5,306.4 L439.5,306.3 L441.5,306.2 L443.5,306.1 L445.5,306.0 L447.5,306.0 L449.5,306.0 L451.5,306.0 L453.5,306.1 L455.5,306.2 L457.5,306.3 L459.5,306.4 L461.5,306.5 L463.5,306.7 L465.5,306.8 L467.5,307.0 L469.5,307.1 L471.5,307.2 L473.5,307.4 L475.5,307.5 L477.5,307.7 L479.5,307.9 L481.5,308.0 L483.5,308.2 L485.5,308.4 L487.4,308.6 L489.4,308.9 L491.4,309.2 L493.3,309.5 L495.3,309.9 L497.2,310.4 L499.1,310.9 L501.0,311.4 L503.0,312.0 L504.9,312.6 L506.7,313.3 L508.6,313.9 L510.5,314.6 L512.4,315.2 L514.3,315.9 L516.2,316.5 L518.1,317.2 L520.0,317.8 L521.9,318.4 L523.8,319.0 L525.8,319.6 L527.7,320.1 L529.6,320.7 L531.5,321.3 L533.5,321.8 L535.4,322.4 L537.3,322.9 L539.2,323.5 L541.2,324.0 L543.1,324.6 L545.0,325.2 L546.9,325.7 L548.8,326.3 L550.7,326.9 L552.6,327.5 L554.5,328.2 L556.3,328.9 L558.2,329.7 L559.9,330.6 L561.7,331.4 L563.4,332.4 L565.2,333.4 L566.9,334.4 L568.6,335.5 L570.2,336.5 L571.9,337.6 L573.6,338.6 L575.3,339.7 L576.9,340.8 L578.6,341.9 L580.2,343.0 L581.8,344.2 L583.4,345.4 L584.9,346.6 L586.4,347.9 L587.9,349.2 L589.4,350.6 L590.8,351.9 L592.3,353.3 L593.7,354.7 L595.1,356.2 L596.5,357.6 L597.9,359.0 L599.3,360.4 L600.7,361.9 L602.1,363.3 L603.5,364.7 L605.0,366.1 L606.4,367.6 L607.8,369.0 L609.2,370.4 L610.6,371.8 L612.0,373.3 L613.4,374.7 L614.8,376.1 L616.3,377.5 L617.7,378.9 L619.1,380.3 L620.5,381.7 L622.0,383.1 L623.4,384.5 L624.9,385.9 L626.3,387.3 L627.8,388.6 L629.3,390.0 L630.7,391.4 L632.2,392.8 L633.6,394.1 L635.1,395.5 L636.6,396.9 L638.0,398.2 L639.5,399.6 L640.9,401.0 L642.4,402.4 L643.9,403.7 L645.3,405.1 L646.8,406.5 L648.2,407.9 L649.7,409.3 L651.1,410.7 L652.6,412.0 L654.0,413.4 L655.4,414.8 L656.9,416.3 L658.3,417.7 L659.7,419.1 L661.1,420.5 L662.6,421.9 L664.0,423.3 L665.4,424.7 L666.8,426.1 L668.2,427.5 L669.7,428.9 L671.1,430.4 L672.5,431.8 L673.9,433.2 L675.3,434.6 L676.8,436.0 L678.2,437.4 L679.6,438.9 L681.0,440.3 L682.4,441.7 L683.8,443.1 L685.2,444.6 L686.6,446.0 L688.0,447.4 L689.4,448.9 L690.8,450.3 L692.2,451.8 L693.6,453.2 L695.0,454.6 L696.4,456.1 L697.8,457.5 L699.2,459.0 L700.6,460.4 L702.0,461.8 L703.4,463.3 L704.8,464.7 L706.2,466.1 L707.6,467.6 L709.0,469.0 L710.4,470.4 L711.8,471.8 L713.2,473.2 L714.7,474.7 L716.1,476.1 L717.5,477.5 L718.9,478.9 L720.4,480.3 L721.8,481.6 L723.2,483.0 L724.7,484.3 L726.2,485.5 L727.8,486.7 L729.4,487.7 L731.0,488.7 L732.7,489.5 L734.5,490.2 L736.3,490.8 L738.2,491.4 L740.1,491.8 L742.0,492.2 L744.0,492.6 L745.9,492.9 L747.9,493.2 L749.9,493.4 L751.9,493.7 L753.8,493.9 L755.8,494.0 L757.8,494.2 L759.8,494.3 L761.8,494.4 L763.8,494.4 L765.8,494.5 L767.8,494.5 L769.8,494.5 L771.8,494.4 L773.8,494.4 L775.8,494.4 L777.8,494.3 L779.8,494.3 L781.8,494.3 L783.8,494.3 L785.8,494.3 L787.8,494.3 L789.8,494.3 L791.8,494.4 L793.8,494.5 L795.8,494.6 L797.8,494.8 L799.8,495.0 L801.8,495.3 L803.7,495.6 L805.7,495.9 L807.7,496.3 L809.6,496.7 L811.6,497.1 L813.6,497.5 L815.5,497.9 L817.5,498.3 L819.4,498.8 L821.3,499.3 L823.2,499.8 L825.1,500.4 L827.0,501.1 L828.9,501.8 L830.7,502.5 L832.5,503.3 L834.3,504.2 L836.1,505.1 L837.8,506.0 L839.6,507.0 L841.3,507.9 L843.1,508.9 L844.8,509.9 L846.5,511.0 L848.2,512.0 L849.9,513.0 L851.6,514.1 L853.3,515.2 L855.0,516.3 L856.7,517.4 L858.3,518.5 L860.0,519.6 L861.6,520.8 L863.3,521.9 L864.9,523.1 L866.6,524.2 L868.2,525.3 L869.9,526.5 L871.5,527.6 L873.1,528.8 L874.8,529.9 L876.4,531.1 L878.1,532.2 L879.7,533.4 L881.4,534.5 L883.0,535.7 L884.7,536.8 L886.3,538.0 L888.0,539.1 L889.6,540.2 L891.3,541.4 L892.9,542.5 L894.6,543.6 L896.2,544.8 L897.9,545.9 L899.5,547.0 L901.2,548.2 L902.8,549.3 L904.5,550.4 L906.1,551.6 L907.8,552.7 L909.4,553.9 L911.1,555.0 L912.7,556.1 L914.4,557.3 L916.0,558.4 L917.7,559.5 L919.3,560.7 L921.0,561.8 L922.6,562.9 L924.3,564.1 L925.9,565.2 L927.6,566.3 L929.2,567.5 L930.9,568.6 L932.5,569.7 L934.2,570.9 L935.8,572.0 L937.5,573.2 L939.1,574.4 L940.7,575.5 L942.3,576.7 L943.9,578.0 L945.5,579.2 L947.0,580.5 L948.5,581.7 L950.1,583.1 L951.6,584.4 L953.0,585.7 L954.5,587.1 L956.0,588.4 L957.5,589.8 L958.9,591.1 L960.4,592.5 L961.9,593.9 L963.3,595.2 L964.8,596.6 L966.3,598.0 L967.7,599.3 L969.2,600.7 L970.7,602.1 L972.1,603.4 L973.6,604.8 L975.1,606.1 L976.6,607.5 L978.1,608.8 L979.6,610.2 L981.1,611.5 L982.6,612.8 L984.1,614.1 L985.6,615.5 L987.1,616.8 L988.6,618.1 L990.1,619.4 L991.6,620.7 L993.1,622.1 L994.6,623.4 L996.2,624.7 L997.7,626.0 L999.2,627.3 L1000.7,628.5 L1002.3,629.8 L1003.9,631.0 L1005.5,632.2 L1007.1,633.4 L1008.7,634.5 L1010.4,635.6 L1012.1,636.7 L1013.8,637.7 L1015.5,638.7 L1017.3,639.6 L1019.0,640.6 L1020.8,641.5 L1022.6,642.4 L1024.4,643.3 L1026.2,644.2 L1027.9,645.1 L1029.7,646.0 L1031.5,646.9 L1033.3,647.8 L1035.2,648.6 L1037.0,649.4 L1038.8,650.2 L1040.7,651.0 L1042.5,651.7 L1044.4,652.4 L1046.3,653.1 L1048.1,653.8 L1050.0,654.5 L1051.9,655.2 L1053.7,655.9 L1055.5,656.7 L1057.3,657.5 L1059.0,658.4 L1060.6,659.3 L1062.2,660.4 L1063.7,661.4 L1065.0,662.6 L1066.3,663.7 L1067.4,664.8 L1068.4,665.8 L1069.3,666.8 L1072.0,670.0" fill="none" stroke="#939393" stroke-width="1.1"/>
<path d="M0.0,364.4 L3.8,363.3 L5.1,362.9 L6.6,362.5 L8.2,362.0 L10.0,361.5 L11.8,360.9 L13.7,360.3 L15.6,359.7 L17.5,359.0 L19.3,358.3 L21.2,357.5 L23.0,356.7 L24.8,355.7 L26.5,354.7 L28.3,353.7 L30.0,352.6 L31.6,351.5 L33.3,350.3 L35.0,349.2 L36.6,348.0 L38.3,346.8 L40.0,345.6 L41.6,344.4 L43.3,343.3 L44.9,342.1 L46.5,340.9 L48.2,339.6 L49.8,338.4 L51.4,337.2 L53.0,335.9 L54.6,334.7 L56.2,333.4 L57.8,332.1 L59.4,330.8 L61.0,329.6 L62.5,328.3 L64.1,327.0 L65.7,325.7 L67.3,324.4 L68.8,323.1 L70.4,321.8 L72.0,320.5 L73.6,319.3 L75.1,318.0 L76.7,316.7 L78.3,315.5 L79.9,314.3 L81.6,313.1 L83.3,312.0 L85.0,311.0 L86.7,310.1 L88.5,309.2 L90.3,308.5 L92.2,307.9 L94.1,307.3 L96.0,306.9 L97.9,306.4 L99.6,306.1 L101.3,305.8 L102.8,305.5 L104.2,305.3 L108.0,304.8" fill="none" stroke="#939393" stroke-width="1.1"/>
<path d="M211.0,421.2 L214.8,421.2 L216.1,421.1 L217.6,421.0 L219.3,420.7 L221.0,420.4 L222.8,420.0 L224.7,419.4 L226.6,418.9 L228.4,418.2 L230.3,417.6 L232.2,417.0 L234.0,416.5 L235.8,416.1 L237.5,415.9 L239.2,415.9 L240.9,416.1 L242.5,416.5 L244.0,417.3 L245.4,418.2 L246.9,419.4 L248.2,420.7 L249.6,422.0 L250.9,423.5 L252.3,425.0 L253.6,426.4 L255.0,427.9 L256.3,429.3 L257.7,430.6 L259.2,431.9 L260.8,432.9 L262.4,433.9 L264.1,434.7 L265.8,435.3 L267.7,435.7 L269.6,436.1 L271.5,436.4 L273.5,436.6 L275.5,436.7 L277.5,436.9 L279.5,437.0 L281.5,437.1 L283.5,437.2 L285.5,437.3 L287.5,437.4 L289.6,437.4 L291.6,437.4 L293.6,437.4 L295.6,437.2 L297.5,437.0 L299.5,436.8 L301.5,436.5 L303.5,436.1 L305.4,435.6 L307.4,435.2 L309.3,434.7 L311.3,434.2 L313.2,433.6 L315.2,433.1 L317.1,432.6 L319.1,432.1 L321.0,431.6 L323.0,431.0 L324.9,430.5 L326.9,430.0 L328.9,429.5 L330.8,428.9 L332.8,428.4 L334.7,427.9 L336.7,427.4 L338.6,427.0 L340.6,426.5 L342.6,426.1 L344.5,425.8 L346.5,425.6 L348.5,425.4 L350.5,425.3 L352.5,425.2 L354.5,425.2 L356.5,425.3 L358.5,425.4 L360.5,425.5 L362.5,425.6 L364.5,425.8 L366.6,425.9 L368.6,426.1 L370.6,426.3 L372.5,426.6 L374.5,426.9 L376.4,427.3 L378.4,427.8 L380.3,428.4 L382.1,429.0 L384.0,429.7 L385.9,430.5 L387.7,431.3 L389.6,432.1 L391.4,432.9 L393.3,433.6 L395.1,434.4 L397.0,435.1 L398.9,435.7 L400.8,436.3 L402.6,436.8 L404.5,437.3 L406.2,437.8 L407.8,438.2 L409.3,438.6 L410.5,439.0 L414.0,440.3" fill="none" stroke="#939393" stroke-width="1.1"/>
<path d="M541.0,556.5 L544.1,558.9 L545.2,559.8 L546.4,560.8 L547.7,561.9 L549.1,563.0 L550.6,564.3 L552.1,565.6 L553.7,566.8 L555.2,568.2 L556.8,569.5 L558.3,570.8 L559.9,572.1 L561.5,573.4 L563.0,574.7 L564.6,576.0 L566.2,577.3 L567.8,578.5 L569.4,579.7 L571.1,580.9 L572.8,582.0 L574.5,583.0 L576.3,583.9 L578.1,584.8 L580.0,585.6 L581.8,586.4 L583.7,587.1 L585.6,587.8 L587.6,588.5 L589.5,589.2 L591.4,589.8 L593.3,590.3 L595.3,590.8 L597.2,591.2 L599.2,591.5 L601.2,591.7 L603.2,591.8 L605.2,591.8 L607.2,591.6 L609.2,591.5 L611.2,591.2 L613.2,590.9 L615.2,590.6 L617.2,590.2 L619.2,589.8 L621.2,589.4 L623.1,589.0 L625.1,588.7 L627.0,588.4 L628.9,588.2 L630.8,588.2 L632.7,588.3 L634.5,588.6 L636.3,589.1 L638.0,589.8 L639.7,590.7 L641.4,591.6 L643.1,592.7 L644.8,593.8 L646.5,594.9 L648.1,596.1 L649.7,597.2 L651.3,598.3 L652.8,599.4 L654.2,600.3 L655.5,601.2 L656.7,601.9 L660.0,603.9" fill="none" stroke="#939393" stroke-width="1.1"/>
<path d="M740.0,621.9 L743.5,624.1 L744.7,624.9 L746.0,625.8 L747.5,626.8 L749.1,627.9 L750.8,629.1 L752.5,630.3 L754.2,631.5 L756.0,632.7 L757.7,633.9 L759.5,635.1 L761.3,636.3 L763.0,637.6 L764.7,638.8 L766.3,639.9 L767.9,641.1 L769.4,642.1 L770.7,643.1 L771.8,644.0 L775.0,646.6" fill="none" stroke="#939393" stroke-width="1.1"/>
<path d="M833.0,719.1 L836.1,721.4 L837.2,722.1 L838.5,722.9 L839.9,723.8 L841.4,724.7 L843.1,725.7 L844.7,726.7 L846.4,727.7 L848.1,728.8 L849.8,729.9 L851.4,731.0 L853.0,732.2 L854.6,733.4 L856.1,734.6 L857.7,735.9 L859.2,737.3 L860.7,738.6 L862.2,739.9 L863.6,741.3 L865.1,742.6 L866.6,744.0 L868.1,745.3 L869.6,746.7 L871.1,748.1 L872.5,749.4 L874.0,750.8 L875.5,752.1 L877.0,753.5 L878.5,754.8 L880.0,756.1 L881.5,757.4 L883.1,758.7 L884.6,760.0 L886.2,761.2 L887.8,762.4 L889.4,763.7 L891.0,764.9 L892.6,766.1 L894.2,767.3 L895.8,768.4 L897.5,769.6 L899.1,770.8 L900.7,771.9 L902.4,772.9 L904.1,774.0 L905.9,774.9 L907.6,775.8 L909.4,776.5 L911.3,777.3 L913.2,777.9 L915.1,778.5 L917.0,779.1 L918.9,779.6 L920.8,780.1 L922.8,780.6 L924.7,781.0 L926.7,781.5 L928.6,781.9 L930.6,782.2 L932.5,782.4 L934.4,782.5 L936.4,782.5 L938.3,782.4 L940.2,782.1 L942.2,781.8 L944.1,781.3 L946.0,780.8 L947.9,780.3 L949.8,779.7 L951.8,779.2 L953.7,778.6 L955.6,778.0 L957.5,777.4 L959.5,776.9 L961.4,776.3 L963.3,775.8 L965.2,775.2 L967.2,774.8 L969.1,774.3 L971.1,773.9 L973.1,773.6 L975.0,773.3 L977.0,773.1 L979.0,772.9 L981.0,772.8 L983.0,772.7 L985.0,772.6 L987.0,772.6 L989.0,772.7 L991.0,772.7 L993.0,772.8 L995.0,772.8 L997.0,772.9 L999.0,773.0 L1001.0,773.2 L1003.0,773.3 L1005.0,773.5 L1007.0,773.8 L1008.9,774.1 L1010.9,774.5 L1012.8,774.9 L1014.8,775.4 L1016.7,775.9 L1018.6,776.5 L1020.6,777.0 L1022.5,777.5 L1024.4,778.0 L1026.4,778.5 L1028.3,778.9 L1030.3,779.2 L1032.2,779.5 L1034.2,779.7 L1036.2,779.8 L1038.2,779.9 L1040.2,779.9 L1042.2,780.0 L1044.2,780.0 L1046.2,780.0 L1048.2,780.0 L1050.2,779.9 L1052.2,779.8 L1054.2,779.7 L1056.2,779.6 L1058.2,779.3 L1060.1,779.1 L1062.1,778.7 L1064.1,778.3 L1066.0,777.9 L1067.9,777.6 L1069.9,777.2 L1071.8,776.9 L1073.7,776.7 L1075.7,776.6 L1077.6,776.6 L1079.5,776.8 L1081.4,777.0 L1083.4,777.4 L1085.3,777.9 L1087.2,778.4 L1089.1,778.9 L1091.0,779.5 L1092.9,780.2 L1094.8,780.8 L1096.7,781.5 L1098.5,782.2 L1100.4,783.0 L1102.2,783.7 L1104.1,784.4 L1105.9,785.1 L1107.8,785.8 L1109.6,786.4 L1111.5,786.9 L1113.5,787.3 L1115.4,787.7 L1117.4,788.0 L1119.4,788.3 L1121.3,788.6 L1123.3,788.9 L1125.3,789.1 L1127.3,789.4 L1129.3,789.7 L1131.3,790.0 L1133.2,790.3 L1135.2,790.7 L1137.1,791.1 L1139.0,791.7 L1140.8,792.3 L1142.6,793.1 L1144.3,794.0 L1145.9,795.0 L1147.5,796.1 L1149.1,797.3 L1150.6,798.6 L1152.0,799.9 L1153.5,801.3 L1155.0,802.6 L1156.5,803.9 L1158.0,805.1 L1159.6,806.3 L1161.2,807.5 L1162.9,808.5 L1164.6,809.6 L1166.3,810.6 L1168.0,811.5 L1169.8,812.5 L1171.6,813.4 L1173.3,814.4 L1175.1,815.4 L1176.8,816.3 L1178.6,817.3 L1180.3,818.3 L1182.1,819.3 L1183.8,820.3 L1185.5,821.3 L1187.3,822.2 L1189.1,823.1 L1190.9,823.9 L1192.7,824.5 L1194.6,825.1 L1196.4,825.6 L1198.4,826.0 L1200.3,826.3 L1202.2,826.4 L1204.2,826.5 L1206.1,826.4 L1208.0,826.2 L1209.9,825.9 L1211.8,825.4 L1213.6,824.8 L1215.4,824.1 L1217.3,823.4 L1219.0,822.5 L1220.8,821.6 L1222.6,820.7 L1224.4,819.8 L1226.1,818.8 L1227.9,817.8 L1229.6,816.8 L1231.3,815.8 L1233.0,814.7 L1234.6,813.6 L1236.2,812.4 L1237.8,811.2 L1239.3,809.9 L1240.7,808.6 L1242.2,807.2 L1243.6,805.7 L1245.0,804.3 L1246.3,802.8 L1247.7,801.4 L1249.1,799.9 L1250.4,798.4 L1251.8,796.9 L1253.1,795.4 L1254.4,793.9 L1255.8,792.4 L1257.1,790.9 L1258.3,789.4 L1259.6,787.8 L1260.8,786.2 L1262.0,784.6 L1263.1,783.0 L1264.3,781.3 L1265.4,779.7 L1266.5,778.0 L1267.6,776.3 L1268.7,774.6 L1269.8,772.9 L1270.9,771.3 L1272.0,769.6 L1273.0,767.8 L1274.1,766.1 L1275.1,764.4 L1276.1,762.7 L1277.0,760.9 L1278.0,759.1 L1278.9,757.3 L1279.8,755.6 L1280.7,753.8 L1281.6,752.0 L1282.5,750.2 L1283.4,748.4 L1284.3,746.6 L1285.1,744.8 L1286.0,743.0 L1286.9,741.1 L1287.8,739.3 L1288.7,737.5 L1289.6,735.7 L1290.4,733.9 L1291.3,732.1 L1292.2,730.3 L1293.1,728.5 L1294.0,726.7 L1294.9,724.9 L1295.7,723.1 L1296.6,721.3 L1297.5,719.5 L1298.4,717.7 L1299.3,715.9 L1300.2,714.1 L1301.0,712.3 L1301.9,710.5 L1302.8,708.7 L1303.7,706.9 L1304.6,705.1 L1305.5,703.3 L1306.4,701.5 L1307.2,699.7 L1308.1,697.9 L1309.0,696.1 L1309.9,694.3 L1310.8,692.5 L1311.8,690.7 L1312.7,688.9 L1313.6,687.1 L1314.5,685.4 L1315.5,683.6 L1316.4,681.8 L1317.3,680.0 L1318.3,678.3 L1319.2,676.5 L1320.2,674.7 L1321.1,672.9 L1322.0,671.2 L1323.0,669.4 L1323.9,667.6 L1324.9,665.8 L1325.8,664.1 L1326.7,662.3 L1327.7,660.5 L1328.6,658.7 L1329.6,657.0 L1330.5,655.2 L1331.4,653.4 L1332.4,651.6 L1333.4,649.9 L1334.3,648.1 L1335.3,646.4 L1336.3,644.7 L1337.4,643.0 L1338.5,641.3 L1339.6,639.7 L1340.8,638.0 L1342.0,636.4 L1343.2,634.9 L1344.5,633.3 L1345.8,631.7 L1347.0,630.2 L1348.3,628.7 L1349.6,627.1 L1350.9,625.6 L1352.2,624.0 L1353.5,622.5 L1354.8,621.0 L1356.1,619.4 L1357.3,617.9 L1358.6,616.3 L1359.9,614.8 L1361.2,613.2 L1362.5,611.7 L1363.8,610.2 L1365.1,608.6 L1366.3,607.1 L1367.6,605.5 L1368.9,604.0 L1370.2,602.4 L1371.4,600.9 L1372.7,599.3 L1374.0,597.8 L1375.3,596.2 L1376.5,594.6 L1377.8,593.1 L1379.1,591.5 L1380.4,590.0 L1381.6,588.4 L1382.9,586.9 L1384.2,585.3 L1385.4,583.8 L1386.7,582.2 L1388.0,580.7 L1389.3,579.1 L1390.5,577.6 L1391.8,576.0 L1393.1,574.4 L1394.4,572.9 L1395.6,571.3 L1396.9,569.8 L1398.2,568.2 L1399.4,566.7 L1400.7,565.1 L1402.0,563.6 L1403.3,562.0 L1404.5,560.5 L1405.8,558.9 L1407.1,557.4 L1408.4,555.8 L1409.6,554.3 L1410.9,552.7 L1412.2,551.2 L1413.5,549.6 L1414.8,548.1 L1416.1,546.5 L1417.3,545.0 L1418.6,543.4 L1419.9,541.9 L1421.2,540.4 L1422.5,538.8 L1423.8,537.3 L1425.0,535.7 L1426.3,534.2 L1427.6,532.6 L1428.9,531.1 L1430.2,529.5 L1431.5,528.0 L1432.7,526.5 L1434.0,524.9 L1435.3,523.4 L1436.6,521.8 L1437.9,520.3 L1439.2,518.7 L1440.5,517.2 L1441.7,515.6 L1443.0,514.1 L1444.3,512.6 L1445.6,511.0 L1446.8,509.5 L1448.1,507.9 L1449.3,506.4 L1450.5,505.0 L1451.7,503.6 L1452.7,502.2 L1453.7,501.1 L1454.6,500.0 L1457.0,497.0" fill="none" stroke="#939393" stroke-width="1.1"/>
<path d="M0.0,245.7 L3.9,243.2 L5.0,242.5 L6.2,241.7 L7.5,240.9 L8.9,240.0 L10.4,239.0 L12.0,238.0 L13.6,237.0 L15.2,235.9 L16.8,234.8 L18.5,233.7 L20.2,232.7 L21.9,231.6 L23.5,230.5 L25.2,229.4 L26.9,228.2 L28.5,227.1 L30.2,226.0 L31.8,224.9 L33.5,223.7 L35.1,222.6 L36.8,221.5 L38.4,220.3 L40.1,219.2 L41.7,218.1 L43.4,217.1 L45.1,216.0 L46.8,215.1 L48.5,214.2 L50.2,213.4 L52.0,212.7 L53.8,212.1 L55.6,211.6 L57.5,211.2 L59.4,210.9 L61.3,210.8 L63.3,210.7 L65.2,210.7 L67.2,210.8 L69.1,210.9 L71.1,211.0 L73.1,211.2 L75.1,211.5 L77.1,211.7 L79.0,212.0 L81.0,212.4 L83.0,212.7 L85.0,213.1 L86.9,213.5 L88.9,213.9 L90.8,214.3 L92.7,214.8 L94.7,215.3 L96.6,215.9 L98.5,216.5 L100.4,217.1 L102.3,217.7 L104.2,218.4 L106.1,219.0 L107.9,219.7 L109.8,220.4 L111.7,221.1 L113.6,221.8 L115.4,222.5 L117.3,223.3 L119.1,224.0 L121.0,224.8 L122.9,225.5 L124.7,226.3 L126.6,227.0 L128.4,227.8 L130.2,228.6 L132.0,229.5 L133.8,230.3 L135.6,231.2 L137.4,232.1 L139.1,233.0 L140.9,234.0 L142.6,235.1 L144.2,236.1 L145.9,237.2 L147.5,238.4 L149.1,239.5 L150.7,240.7 L152.3,241.9 L153.9,243.1 L155.5,244.3 L157.1,245.5 L158.7,246.7 L160.4,247.8 L162.0,248.9 L163.7,250.0 L165.4,251.1 L167.0,252.1 L168.8,253.1 L170.5,254.1 L172.2,255.0 L173.9,256.0 L175.6,257.0 L177.3,258.0 L178.9,259.1 L180.6,260.2 L182.2,261.4 L183.7,262.6 L185.3,263.8 L186.8,265.1 L188.3,266.3 L189.8,267.7 L191.3,269.0 L192.8,270.3 L194.4,271.6 L195.9,272.9 L197.4,274.2 L199.0,275.4 L200.5,276.7 L202.1,277.9 L203.7,279.1 L205.3,280.2 L206.9,281.4 L208.6,282.6 L210.2,283.7 L211.9,284.8 L213.5,286.0 L215.1,287.1 L216.8,288.3 L218.4,289.4 L220.0,290.6 L221.6,291.8 L223.3,293.0 L224.9,294.2 L226.5,295.4 L228.0,296.6 L229.6,297.8 L231.2,299.0 L232.8,300.3 L234.4,301.5 L236.0,302.7 L237.6,303.9 L239.1,305.2 L240.7,306.4 L242.3,307.6 L243.9,308.8 L245.5,310.0 L247.1,311.2 L248.7,312.4 L250.3,313.6 L251.9,314.8 L253.6,315.9 L255.2,317.0 L256.9,318.1 L258.6,319.1 L260.3,320.1 L262.1,321.1 L263.8,322.0 L265.6,323.0 L267.4,323.9 L269.2,324.8 L271.0,325.6 L272.8,326.5 L274.6,327.4 L276.4,328.3 L278.2,329.1 L280.0,330.0 L281.8,330.8 L283.6,331.7 L285.4,332.5 L287.2,333.3 L289.1,334.1 L290.9,334.9 L292.8,335.7 L294.6,336.4 L296.5,337.1 L298.4,337.7 L300.3,338.3 L302.2,338.9 L304.1,339.4 L306.0,339.9 L308.0,340.4 L309.9,340.8 L311.9,341.2 L313.8,341.6 L315.8,341.9 L317.8,342.2 L319.8,342.5 L321.7,342.8 L323.7,343.1 L325.7,343.4 L327.7,343.7 L329.7,344.0 L331.6,344.3 L333.6,344.5 L335.6,344.8 L337.6,345.1 L339.6,345.4 L341.5,345.7 L343.5,346.0 L345.5,346.3 L347.4,346.7 L349.4,347.1 L351.3,347.6 L353.2,348.1 L355.1,348.6 L357.0,349.2 L358.9,349.8 L360.8,350.4 L362.7,351.1 L364.6,351.8 L366.4,352.5 L368.3,353.2 L370.2,353.9 L372.0,354.7 L373.9,355.4 L375.7,356.2 L377.5,357.0 L379.4,357.8 L381.2,358.6 L382.9,359.5 L384.7,360.4 L386.4,361.4 L388.1,362.4 L389.8,363.5 L391.5,364.5 L393.1,365.7 L394.7,366.8 L396.4,368.0 L398.0,369.2 L399.6,370.4 L401.2,371.6 L402.8,372.8 L404.4,374.0 L406.0,375.2 L407.6,376.4 L409.2,377.5 L410.8,378.7 L412.5,379.8 L414.1,381.0 L415.8,382.0 L417.5,383.1 L419.2,384.2 L420.9,385.2 L422.6,386.1 L424.4,387.1 L426.1,388.1 L427.9,389.0 L429.7,389.9 L431.5,390.8 L433.3,391.7 L435.0,392.6 L436.8,393.5 L438.6,394.4 L440.4,395.3 L442.2,396.2 L444.0,397.1 L445.8,398.0 L447.5,399.0 L449.3,399.9 L451.1,400.8 L452.9,401.7 L454.6,402.6 L456.4,403.6 L458.2,404.5 L460.0,405.5 L461.7,406.4 L463.5,407.3 L465.3,408.3 L467.0,409.2 L468.8,410.2 L470.5,411.1 L472.3,412.1 L474.1,413.0 L475.8,414.0 L477.6,414.9 L479.4,415.9 L481.1,416.8 L482.9,417.8 L484.7,418.7 L486.4,419.7 L488.2,420.6 L489.9,421.6 L491.7,422.6 L493.4,423.5 L495.2,424.5 L497.0,425.4 L498.7,426.4 L500.5,427.4 L502.2,428.3 L504.0,429.3 L505.7,430.3 L507.5,431.2 L509.2,432.2 L511.0,433.2 L512.7,434.1 L514.5,435.1 L516.3,436.1 L518.0,437.0 L519.8,438.0 L521.5,439.0 L523.3,439.9 L525.0,440.9 L526.8,441.8 L528.5,442.8 L530.3,443.8 L532.0,444.7 L533.8,445.7 L535.6,446.6 L537.3,447.6 L539.1,448.5 L540.9,449.5 L542.6,450.4 L544.4,451.3 L546.2,452.2 L548.0,453.0 L549.8,453.9 L551.6,454.8 L553.5,455.6 L555.3,456.4 L557.1,457.2 L558.9,458.0 L560.8,458.8 L562.6,459.6 L564.5,460.4 L566.3,461.2 L568.1,462.0 L570.0,462.8 L571.8,463.6 L573.7,464.4 L575.5,465.1 L577.3,465.9 L579.2,466.7 L581.0,467.5 L582.9,468.3 L584.7,469.1 L586.5,469.9 L588.4,470.7 L590.2,471.5 L592.0,472.3 L593.9,473.1 L595.7,473.9 L597.5,474.8 L599.2,475.7 L601.0,476.6 L602.7,477.6 L604.4,478.6 L606.1,479.7 L607.7,480.8 L609.4,481.9 L610.9,483.1 L612.5,484.3 L614.1,485.6 L615.6,486.8 L617.2,488.1 L618.7,489.4 L620.3,490.6 L621.8,491.9 L623.3,493.2 L624.9,494.5 L626.4,495.7 L628.0,497.0 L629.5,498.2 L631.1,499.5 L632.7,500.7 L634.3,501.8 L636.0,503.0 L637.6,504.1 L639.3,505.2 L640.9,506.3 L642.6,507.4 L644.3,508.4 L646.0,509.5 L647.7,510.5 L649.4,511.6 L651.2,512.6 L652.9,513.6 L654.6,514.7 L656.3,515.7 L658.0,516.7 L659.8,517.7 L661.5,518.8 L663.2,519.8 L664.9,520.8 L666.6,521.9 L668.3,522.9 L670.1,523.9 L671.8,525.0 L673.5,526.0 L675.2,527.0 L676.9,528.0 L678.6,529.1 L680.4,530.1 L682.1,531.1 L683.8,532.1 L685.5,533.1 L687.3,534.2 L689.0,535.1 L690.7,536.1 L692.5,537.1 L694.2,538.1 L696.0,539.0 L697.8,540.0 L699.5,540.9 L701.3,541.8 L703.1,542.7 L704.9,543.6 L706.7,544.5 L708.5,545.4 L710.3,546.3 L712.0,547.2 L713.8,548.1 L715.6,549.0 L717.4,549.9 L719.2,550.8 L721.0,551.7 L722.8,552.6 L724.6,553.5 L726.4,554.3 L728.2,555.2 L730.0,556.0 L731.8,556.9 L733.7,557.7 L735.5,558.5 L737.3,559.3 L739.1,560.1 L741.0,560.9 L742.8,561.7 L744.7,562.5 L746.5,563.2 L748.4,564.0 L750.2,564.7 L752.1,565.5 L753.9,566.3 L755.8,567.1 L757.6,567.9 L759.4,568.7 L761.3,569.5 L763.1,570.3 L764.9,571.2 L766.6,572.1 L768.4,573.0 L770.2,573.9 L772.0,574.9 L773.7,575.8 L775.5,576.8 L777.2,577.8 L779.0,578.7 L780.7,579.7 L782.5,580.7 L784.2,581.7 L786.0,582.7 L787.7,583.6 L789.5,584.6 L791.2,585.6 L792.9,586.6 L794.7,587.6 L796.4,588.6 L798.1,589.7 L799.8,590.7 L801.5,591.7 L803.2,592.8 L804.9,593.8 L806.6,594.9 L808.3,596.0 L810.0,597.1 L811.7,598.2 L813.3,599.3 L815.0,600.4 L816.7,601.5 L818.4,602.6 L820.0,603.7 L821.7,604.8 L823.4,605.9 L825.0,607.0 L826.7,608.1 L828.4,609.2 L830.0,610.3 L831.7,611.5 L833.3,612.6 L835.0,613.8 L836.6,614.9 L838.3,616.0 L839.9,617.2 L841.5,618.3 L843.2,619.5 L844.8,620.6 L846.4,621.8 L848.1,623.0 L849.7,624.1 L851.4,625.3 L853.0,626.4 L854.6,627.6 L856.3,628.7 L857.9,629.9 L859.5,631.0 L861.2,632.2 L862.8,633.3 L864.5,634.5 L866.1,635.6 L867.7,636.8 L869.4,637.9 L871.0,639.1 L872.7,640.2 L874.3,641.4 L875.9,642.5 L877.6,643.6 L879.2,644.8 L880.9,645.9 L882.5,647.1 L884.2,648.2 L885.8,649.3 L887.5,650.5 L889.1,651.6 L890.8,652.8 L892.4,653.9 L894.1,655.0 L895.7,656.1 L897.4,657.3 L899.1,658.4 L900.7,659.5 L902.4,660.5 L904.1,661.6 L905.8,662.6 L907.6,663.6 L909.3,664.5 L911.1,665.5 L912.8,666.4 L914.6,667.3 L916.4,668.2 L918.2,669.0 L920.0,669.9 L921.8,670.7 L923.7,671.6 L925.5,672.4 L927.3,673.2 L929.1,674.1 L930.9,674.9 L932.7,675.8 L934.5,676.7 L936.3,677.5 L938.1,678.4 L939.9,679.3 L941.7,680.3 L943.4,681.2 L945.2,682.2 L947.0,683.1 L948.7,684.1 L950.4,685.1 L952.2,686.1 L953.9,687.1 L955.6,688.1 L957.4,689.1 L959.1,690.1 L960.8,691.1 L962.6,692.1 L964.3,693.1 L966.0,694.1 L967.8,695.1 L969.5,696.1 L971.3,697.0 L973.0,697.9 L974.8,698.8 L976.6,699.7 L978.4,700.5 L980.2,701.2 L982.0,701.9 L983.9,702.5 L985.8,703.0 L987.7,703.5 L989.7,703.9 L991.6,704.3 L993.6,704.6 L995.5,704.9 L997.5,705.2 L999.5,705.5 L1001.5,705.8 L1003.4,706.1 L1005.4,706.4 L1007.4,706.6 L1009.4,706.9 L1011.4,707.2 L1013.4,707.5 L1015.3,707.7 L1017.3,708.0 L1019.3,708.2 L1021.3,708.5 L1023.3,708.7 L1025.3,709.0 L1027.3,709.2 L1029.2,709.4 L1031.2,709.6 L1033.2,709.7 L1035.2,709.9 L1037.2,710.1 L1039.2,710.2 L1041.2,710.3 L1043.2,710.5 L1045.2,710.6 L1047.2,710.8 L1049.2,710.9 L1051.2,711.0 L1053.2,711.1 L1055.2,711.3 L1057.2,711.4 L1059.2,711.5 L1061.2,711.6 L1063.2,711.7 L1065.2,711.8 L1067.2,711.9 L1069.2,712.0 L1071.2,712.0 L1073.2,712.0 L1075.2,712.0 L1077.2,712.0 L1079.2,711.9 L1081.1,711.7 L1083.1,711.6 L1085.1,711.3 L1087.1,711.1 L1089.0,710.7 L1090.9,710.3 L1092.9,709.9 L1094.7,709.3 L1096.6,708.7 L1098.5,708.0 L1100.3,707.3 L1102.1,706.5 L1103.9,705.6 L1105.7,704.7 L1107.4,703.8 L1109.1,702.8 L1110.8,701.8 L1112.5,700.7 L1114.2,699.6 L1115.9,698.5 L1117.5,697.4 L1119.1,696.2 L1120.7,695.0 L1122.4,693.8 L1124.0,692.6 L1125.5,691.4 L1127.1,690.2 L1128.7,689.0 L1130.3,687.8 L1131.9,686.6 L1133.5,685.4 L1135.1,684.2 L1136.7,683.0 L1138.3,681.8 L1139.9,680.6 L1141.5,679.4 L1143.1,678.2 L1144.6,676.9 L1146.1,675.7 L1147.6,674.3 L1149.1,673.0 L1150.5,671.6 L1151.8,670.2 L1153.2,668.7 L1154.5,667.2 L1155.7,665.7 L1157.0,664.1 L1158.2,662.5 L1159.4,661.0 L1160.6,659.4 L1161.8,657.8 L1163.0,656.2 L1164.2,654.6 L1165.4,653.0 L1166.6,651.4 L1167.8,649.8 L1169.1,648.2 L1170.3,646.6 L1171.5,645.0 L1172.8,643.5 L1174.1,641.9 L1175.3,640.4 L1176.6,638.9 L1177.9,637.4 L1179.3,635.9 L1180.6,634.4 L1181.9,632.9 L1183.3,631.4 L1184.6,629.9 L1186.0,628.5 L1187.3,627.0 L1188.7,625.5 L1190.1,624.0 L1191.4,622.6 L1192.8,621.1 L1194.1,619.6 L1195.5,618.2 L1196.9,616.7 L1198.2,615.2 L1199.6,613.8 L1200.9,612.3 L1202.3,610.8 L1203.7,609.3 L1205.0,607.9 L1206.4,606.4 L1207.7,604.9 L1209.1,603.5 L1210.5,602.0 L1211.8,600.5 L1213.2,599.1 L1214.5,597.6 L1215.9,596.1 L1217.3,594.7 L1218.7,593.2 L1220.0,591.8 L1221.4,590.3 L1222.8,588.9 L1224.2,587.4 L1225.6,586.0 L1226.9,584.5 L1228.3,583.1 L1229.7,581.6 L1231.1,580.2 L1232.5,578.8 L1233.9,577.3 L1235.3,575.9 L1236.7,574.4 L1238.1,573.0 L1239.5,571.6 L1240.9,570.1 L1242.3,568.7 L1243.7,567.3 L1245.1,565.8 L1246.5,564.4 L1247.9,563.0 L1249.3,561.5 L1250.6,560.1 L1252.0,558.7 L1253.4,557.2 L1254.8,555.8 L1256.2,554.3 L1257.6,552.9 L1259.0,551.5 L1260.4,550.0 L1261.8,548.6 L1263.2,547.2 L1264.6,545.7 L1266.0,544.3 L1267.4,542.9 L1268.9,541.5 L1270.3,540.1 L1271.7,538.7 L1273.2,537.4 L1274.7,536.0 L1276.2,534.7 L1277.7,533.5 L1279.3,532.2 L1280.8,531.0 L1282.4,529.8 L1284.0,528.6 L1285.6,527.4 L1287.3,526.2 L1288.9,525.1 L1290.5,523.9 L1292.2,522.8 L1293.8,521.6 L1295.5,520.5 L1297.1,519.3 L1298.8,518.2 L1300.4,517.1 L1302.0,515.9 L1303.7,514.8 L1305.3,513.6 L1307.0,512.5 L1308.6,511.3 L1310.3,510.2 L1311.9,509.1 L1313.6,507.9 L1315.2,506.8 L1316.8,505.6 L1318.5,504.5 L1320.1,503.4 L1321.8,502.2 L1323.4,501.1 L1325.1,499.9 L1326.7,498.8 L1328.4,497.6 L1330.0,496.5 L1331.6,495.4 L1333.3,494.2 L1334.9,493.1 L1336.6,491.9 L1338.2,490.8 L1339.9,489.6 L1341.5,488.5 L1343.2,487.4 L1344.8,486.2 L1346.4,485.1 L1348.1,483.9 L1349.7,482.8 L1351.4,481.6 L1353.0,480.5 L1354.7,479.3 L1356.3,478.2 L1357.9,477.0 L1359.5,475.8 L1361.1,474.6 L1362.7,473.4 L1364.3,472.2 L1365.9,471.0 L1367.4,469.7 L1368.9,468.4 L1370.4,467.1 L1371.9,465.8 L1373.4,464.4 L1374.9,463.1 L1376.4,461.7 L1377.8,460.4 L1379.3,459.0 L1380.8,457.6 L1382.2,456.3 L1383.7,454.9 L1385.1,453.5 L1386.5,452.1 L1387.9,450.7 L1389.4,449.3 L1390.8,447.9 L1392.2,446.4 L1393.6,445.0 L1395.0,443.6 L1396.5,442.2 L1397.9,440.9 L1399.4,439.5 L1400.9,438.2 L1402.4,436.8 L1403.9,435.5 L1405.4,434.3 L1406.9,433.0 L1408.5,431.7 L1410.0,430.4 L1411.6,429.2 L1413.2,427.9 L1414.7,426.7 L1416.3,425.4 L1417.8,424.2 L1419.4,422.9 L1421.0,421.7 L1422.5,420.4 L1424.1,419.2 L1425.7,418.0 L1427.2,416.7 L1428.8,415.5 L1430.4,414.2 L1431.9,413.0 L1433.5,411.7 L1435.1,410.5 L1436.6,409.2 L1438.2,408.0 L1439.8,406.7 L1441.3,405.5 L1442.9,404.3 L1444.4,403.1 L1445.9,401.9 L1447.3,400.7 L1448.7,399.6 L1450.0,398.5 L1451.3,397.6 L1452.4,396.7 L1453.4,395.9 L1457.0,393.0" fill="none" stroke="#363636" stroke-width="1.6"/>
<rect x="8.4" y="163.0" width="2" height="48.6" fill="#13855f"/>
<rect x="3.4" y="174.0" width="12" height="30.0" fill="#1bae7d" stroke="#13855f" stroke-width="1"/>
<rect x="21.4" y="129.0" width="2" height="50.0" fill="#13855f"/>
<rect x="16.4" y="129.0" width="12" height="23.6" fill="#1bae7d" stroke="#13855f" stroke-width="1"/>
<rect x="37.0" y="121.0" width="2" height="75.0" fill="#b93333"/>
<rect x="32.0" y="134.0" width="12" height="38.5" fill="#ea494c" stroke="#b93333" stroke-width="1"/>
<rect x="52.2" y="146.0" width="2" height="70.4" fill="#b93333"/>
<rect x="47.2" y="171.5" width="12" height="31.3" fill="#ea494c" stroke="#b93333" stroke-width="1"/>
<rect x="69.5" y="158.0" width="2" height="68.0" fill="#13855f"/>
<rect x="64.5" y="184.0" width="12" height="28.5" fill="#1bae7d" stroke="#13855f" stroke-width="1"/>
<rect x="85.0" y="161.8" width="2" height="96.6" fill="#b93333"/>
<rect x="80.0" y="171.5" width="12" height="68.5" fill="#ea494c" stroke="#b93333" stroke-width="1"/>
<rect x="100.5" y="195.0" width="2" height="113.0" fill="#b93333"/>
<rect x="95.5" y="241.0" width="12" height="30.7" fill="#ea494c" stroke="#b93333" stroke-width="1"/>
<rect x="116.0" y="257.5" width="2" height="73.0" fill="#b93333"/>
<rect x="111.0" y="269.0" width="12" height="38.0" fill="#ea494c" stroke="#b93333" stroke-width="1"/>
<rect x="131.6" y="254.0" width="2" height="63.6" fill="#13855f"/>
<rect x="126.6" y="296.0" width="12" height="11.0" fill="#1bae7d" stroke="#13855f" stroke-width="1"/>
<rect x="146.6" y="259.0" width="2" height="75.0" fill="#b93333"/>
<rect x="141.6" y="300.0" width="12" height="21.6" fill="#ea494c" stroke="#b93333" stroke-width="1"/>
<rect x="163.0" y="292.0" width="2" height="89.6" fill="#b93333"/>
<rect x="158.0" y="319.0" width="12" height="52.4" fill="#ea494c" stroke="#b93333" stroke-width="1"/>
<rect x="179.5" y="333.0" width="2" height="70.7" fill="#13855f"/>
<rect x="174.5" y="351.0" width="12" height="20.4" fill="#1bae7d" stroke="#13855f" stroke-width="1"/>
<rect x="196.0" y="337.0" width="2" height="99.0" fill="#b93333"/>
<rect x="191.0" y="351.0" width="12" height="70.6" fill="#ea494c" stroke="#b93333" stroke-width="1"/>
<rect x="212.0" y="329.0" width="2" height="93.0" fill="#13855f"/>
<rect x="207.0" y="350.0" width="12" height="72.0" fill="#1bae7d" stroke="#13855f" stroke-width="1"/>
<rect x="227.5" y="320.0" width="2" height="44.6" fill="#b93333"/>
<rect x="222.5" y="352.7" width="12" height="3.0" fill="#ea494c" stroke="#b93333" stroke-width="1"/>
<rect x="244.5" y="351.0" width="2" height="56.0" fill="#b93333"/>
<rect x="239.5" y="352.7" width="12" height="45.1" fill="#ea494c" stroke="#b93333" stroke-width="1"/>
<rect x="260.0" y="363.0" width="2" height="59.0" fill="#13855f"/>
<rect x="255.0" y="390.0" width="12" height="6.6" fill="#1bae7d" stroke="#13855f" stroke-width="1"/>
<rect x="277.0" y="378.0" width="2" height="58.0" fill="#b93333"/>
<rect x="272.0" y="393.0" width="12" height="32.5" fill="#ea494c" stroke="#b93333" stroke-width="1"/>
<rect x="293.5" y="335.7" width="2" height="102.3" fill="#13855f"/>
<rect x="288.5" y="360.7" width="12" height="62.9" fill="#1bae7d" stroke="#13855f" stroke-width="1"/>
<rect x="309.5" y="323.0" width="2" height="57.0" fill="#13855f"/>
<rect x="304.5" y="340.0" width="12" height="22.7" fill="#1bae7d" stroke="#13855f" stroke-width="1"/>
<rect x="325.0" y="329.3" width="2" height="34.7" fill="#b93333"/>
<rect x="320.0" y="342.0" width="12" height="5.6" fill="#ea494c" stroke="#b93333" stroke-width="1"/>
<rect x="341.7" y="332.0" width="2" height="22.7" fill="#13855f"/>
<rect x="341.7" y="332.0" width="2" height="12.0" fill="#b93333"/>
<rect x="341.7" y="346.0" width="2" height="8.7" fill="#13855f"/>
<rect x="339.7" y="344.0" width="6" height="2" fill="#13855f"/>
<rect x="356.3" y="338.6" width="2" height="59.0" fill="#b93333"/>
<rect x="351.3" y="344.4" width="12" height="37.3" fill="#ea494c" stroke="#b93333" stroke-width="1"/>
<rect x="372.5" y="348.3" width="2" height="51.3" fill="#13855f"/>
<rect x="367.5" y="365.0" width="12" height="25.0" fill="#1bae7d" stroke="#13855f" stroke-width="1"/>
<rect x="389.0" y="351.0" width="2" height="48.0" fill="#b93333"/>
<rect x="389.0" y="370.0" width="2" height="29.0" fill="#13855f"/>
<rect x="384.0" y="365.0" width="12" height="5.0" fill="#ea494c" stroke="#b93333" stroke-width="1"/>
<rect x="405.0" y="358.4" width="2" height="67.4" fill="#b93333"/>
<rect x="400.0" y="365.0" width="12" height="49.0" fill="#ea494c" stroke="#b93333" stroke-width="1"/>
<rect x="421.5" y="396.0" width="2" height="66.0" fill="#b93333"/>
<rect x="416.5" y="414.5" width="12" height="41.0" fill="#ea494c" stroke="#b93333" stroke-width="1"/>
<rect x="438.0" y="443.5" width="2" height="76.5" fill="#b93333"/>
<rect x="433.0" y="455.0" width="12" height="56.7" fill="#ea494c" stroke="#b93333" stroke-width="1"/>
<rect x="454.5" y="464.4" width="2" height="92.6" fill="#13855f"/>
<rect x="449.5" y="495.0" width="12" height="10.0" fill="#1bae7d" stroke="#13855f" stroke-width="1"/>
<rect x="471.8" y="472.8" width="2" height="58.0" fill="#13855f"/>
<rect x="466.8" y="485.0" width="12" height="26.7" fill="#1bae7d" stroke="#13855f" stroke-width="1"/>
<rect x="488.0" y="464.4" width="2" height="85.6" fill="#b93333"/>
<rect x="483.0" y="487.0" width="12" height="33.7" fill="#ea494c" stroke="#b93333" stroke-width="1"/>
<rect x="504.4" y="496.6" width="2" height="30.4" fill="#13855f"/>
<rect x="499.4" y="512.0" width="12" height="5.7" fill="#1bae7d" stroke="#13855f" stroke-width="1"/>
<rect x="520.8" y="498.0" width="2" height="61.5" fill="#b93333"/>
<rect x="515.8" y="516.0" width="12" height="29.5" fill="#ea494c" stroke="#b93333" stroke-width="1"/>
<rect x="537.5" y="495.0" width="2" height="60.8" fill="#13855f"/>
<rect x="532.5" y="516.0" width="12" height="34.7" fill="#1bae7d" stroke="#13855f" stroke-width="1"/>
<rect x="553.6" y="488.0" width="2" height="45.4" fill="#b93333"/>
<rect x="548.6" y="516.0" width="12" height="9.0" fill="#ea494c" stroke="#b93333" stroke-width="1"/>
<rect x="570.0" y="494.0" width="2" height="51.0" fill="#b93333"/>
<rect x="565.0" y="516.0" width="12" height="11.0" fill="#ea494c" stroke="#b93333" stroke-width="1"/>
<rect x="586.5" y="512.0" width="2" height="46.5" fill="#b93333"/>
<rect x="586.5" y="512.0" width="2" height="15.5" fill="#13855f"/>
<rect x="581.5" y="527.5" width="12" height="23.2" fill="#ea494c" stroke="#b93333" stroke-width="1"/>
<rect x="603.0" y="471.8" width="2" height="109.8" fill="#13855f"/>
<rect x="598.0" y="489.4" width="12" height="61.3" fill="#1bae7d" stroke="#13855f" stroke-width="1"/>
<rect x="618.7" y="472.7" width="2" height="52.3" fill="#b93333"/>
<rect x="613.7" y="489.3" width="12" height="20.5" fill="#ea494c" stroke="#b93333" stroke-width="1"/>
<rect x="634.4" y="480.0" width="2" height="83.5" fill="#b93333"/>
<rect x="629.4" y="508.8" width="12" height="49.2" fill="#ea494c" stroke="#b93333" stroke-width="1"/>
<rect x="650.0" y="538.0" width="2" height="40.0" fill="#13855f"/>
<rect x="645.0" y="549.8" width="12" height="8.8" fill="#1bae7d" stroke="#13855f" stroke-width="1"/>
<rect x="666.0" y="541.0" width="2" height="102.6" fill="#b93333"/>
<rect x="661.0" y="549.8" width="12" height="60.6" fill="#ea494c" stroke="#b93333" stroke-width="1"/>
<rect x="682.3" y="591.8" width="2" height="45.9" fill="#b93333"/>
<rect x="677.3" y="605.0" width="12" height="21.6" fill="#ea494c" stroke="#b93333" stroke-width="1"/>
<rect x="699.0" y="592.0" width="2" height="41.4" fill="#13855f"/>
<rect x="694.0" y="605.5" width="12" height="21.1" fill="#1bae7d" stroke="#13855f" stroke-width="1"/>
<rect x="715.5" y="582.0" width="2" height="49.0" fill="#b93333"/>
<rect x="710.5" y="605.0" width="12" height="10.3" fill="#ea494c" stroke="#b93333" stroke-width="1"/>
<rect x="732.6" y="553.8" width="2" height="70.0" fill="#13855f"/>
<rect x="727.6" y="565.0" width="12" height="54.8" fill="#1bae7d" stroke="#13855f" stroke-width="1"/>
<rect x="748.0" y="551.4" width="2" height="34.2" fill="#b93333"/>
<rect x="748.0" y="569.4" width="2" height="16.2" fill="#13855f"/>
<rect x="743.0" y="563.0" width="12" height="6.4" fill="#ea494c" stroke="#b93333" stroke-width="1"/>
<rect x="763.0" y="549.5" width="2" height="70.3" fill="#b93333"/>
<rect x="758.0" y="568.8" width="12" height="45.5" fill="#ea494c" stroke="#b93333" stroke-width="1"/>
<rect x="780.0" y="601.0" width="2" height="37.7" fill="#b93333"/>
<rect x="780.0" y="601.0" width="2" height="13.0" fill="#13855f"/>
<rect x="775.0" y="614.0" width="12" height="24.7" fill="#ea494c" stroke="#b93333" stroke-width="1"/>
<rect x="795.5" y="626.7" width="2" height="81.3" fill="#b93333"/>
<rect x="790.5" y="635.0" width="12" height="56.6" fill="#ea494c" stroke="#b93333" stroke-width="1"/>
<rect x="812.4" y="665.0" width="2" height="59.4" fill="#b93333"/>
<rect x="812.4" y="665.0" width="2" height="26.0" fill="#13855f"/>
<rect x="807.4" y="691.0" width="12" height="27.0" fill="#ea494c" stroke="#b93333" stroke-width="1"/>
<rect x="828.4" y="667.7" width="2" height="72.7" fill="#13855f"/>
<rect x="823.4" y="698.4" width="12" height="20.6" fill="#1bae7d" stroke="#13855f" stroke-width="1"/>
<rect x="844.5" y="687.7" width="2" height="42.3" fill="#13855f"/>
<rect x="839.5" y="692.0" width="12" height="15.0" fill="#1bae7d" stroke="#13855f" stroke-width="1"/>
<rect x="860.6" y="657.4" width="2" height="54.6" fill="#b93333"/>
<rect x="860.6" y="657.4" width="2" height="34.6" fill="#13855f"/>
<rect x="860.6" y="698.4" width="2" height="13.6" fill="#13855f"/>
<rect x="855.6" y="692.0" width="12" height="6.4" fill="#1bae7d" stroke="#13855f" stroke-width="1"/>
<rect x="855.1" y="691.5" width="6" height="7.4" fill="#ea494c"/>
<rect x="876.5" y="683.4" width="2" height="47.2" fill="#b93333"/>
<rect x="871.5" y="690.0" width="12" height="25.0" fill="#ea494c" stroke="#b93333" stroke-width="1"/>
<rect x="891.5" y="708.0" width="2" height="79.0" fill="#b93333"/>
<rect x="886.5" y="714.4" width="12" height="45.1" fill="#ea494c" stroke="#b93333" stroke-width="1"/>
<rect x="908.5" y="715.0" width="2" height="52.7" fill="#13855f"/>
<rect x="903.5" y="731.0" width="12" height="28.5" fill="#1bae7d" stroke="#13855f" stroke-width="1"/>
<rect x="925.0" y="693.0" width="2" height="53.0" fill="#13855f"/>
<rect x="920.0" y="707.0" width="12" height="29.5" fill="#1bae7d" stroke="#13855f" stroke-width="1"/>
<rect x="940.0" y="686.7" width="2" height="56.6" fill="#b93333"/>
<rect x="935.0" y="706.0" width="12" height="5.7" fill="#ea494c" stroke="#b93333" stroke-width="1"/>
<rect x="956.5" y="700.5" width="2" height="56.2" fill="#b93333"/>
<rect x="951.5" y="706.0" width="12" height="34.7" fill="#ea494c" stroke="#b93333" stroke-width="1"/>
<rect x="972.0" y="710.0" width="2" height="50.0" fill="#13855f"/>
<rect x="967.0" y="734.0" width="12" height="6.0" fill="#1bae7d" stroke="#13855f" stroke-width="1"/>
<rect x="988.0" y="701.0" width="2" height="44.0" fill="#13855f"/>
<rect x="983.0" y="706.0" width="12" height="32.8" fill="#1bae7d" stroke="#13855f" stroke-width="1"/>
<rect x="1003.0" y="688.0" width="2" height="37.5" fill="#b93333"/>
<rect x="1003.0" y="688.0" width="2" height="19.0" fill="#13855f"/>
<rect x="998.0" y="707.0" width="12" height="8.0" fill="#ea494c" stroke="#b93333" stroke-width="1"/>
<rect x="1019.7" y="682.0" width="2" height="53.0" fill="#b93333"/>
<rect x="1014.7" y="709.0" width="12" height="15.0" fill="#ea494c" stroke="#b93333" stroke-width="1"/>
<rect x="1036.2" y="718.6" width="2" height="69.0" fill="#b93333"/>
<rect x="1031.2" y="725.5" width="12" height="51.3" fill="#ea494c" stroke="#b93333" stroke-width="1"/>
<rect x="1052.0" y="715.0" width="2" height="77.0" fill="#13855f"/>
<rect x="1047.0" y="736.0" width="12" height="40.8" fill="#1bae7d" stroke="#13855f" stroke-width="1"/>
<rect x="1067.0" y="662.6" width="2" height="83.4" fill="#13855f"/>
<rect x="1062.0" y="726.0" width="12" height="9.8" fill="#1bae7d" stroke="#13855f" stroke-width="1"/>
<rect x="1080.5" y="656.5" width="2" height="86.5" fill="#13855f"/>
<rect x="1075.5" y="674.0" width="12" height="54.4" fill="#1bae7d" stroke="#13855f" stroke-width="1"/>
<rect x="1096.6" y="591.0" width="2" height="94.4" fill="#13855f"/>
<rect x="1091.6" y="617.0" width="12" height="56.7" fill="#1bae7d" stroke="#13855f" stroke-width="1"/>
<rect x="1112.5" y="574.5" width="2" height="61.5" fill="#13855f"/>
<rect x="1107.5" y="609.0" width="12" height="11.4" fill="#1bae7d" stroke="#13855f" stroke-width="1"/>
<rect x="1129.0" y="561.0" width="2" height="56.5" fill="#13855f"/>
<rect x="1124.0" y="586.0" width="12" height="19.8" fill="#1bae7d" stroke="#13855f" stroke-width="1"/>
<rect x="1144.5" y="570.0" width="2" height="42.6" fill="#b93333"/>
<rect x="1139.5" y="586.0" width="12" height="9.6" fill="#ea494c" stroke="#b93333" stroke-width="1"/>
<rect x="1160.5" y="478.0" width="2" height="134.6" fill="#13855f"/>
<rect x="1155.5" y="511.0" width="12" height="84.6" fill="#1bae7d" stroke="#13855f" stroke-width="1"/>
<rect x="1176.5" y="446.6" width="2" height="73.4" fill="#13855f"/>
<rect x="1171.5" y="465.5" width="12" height="47.5" fill="#1bae7d" stroke="#13855f" stroke-width="1"/>
<rect x="1192.3" y="433.0" width="2" height="42.0" fill="#13855f"/>
<rect x="1187.3" y="443.0" width="12" height="22.5" fill="#1bae7d" stroke="#13855f" stroke-width="1"/>
<rect x="1208.0" y="411.0" width="2" height="89.0" fill="#b93333"/>
<rect x="1203.0" y="443.0" width="12" height="48.0" fill="#ea494c" stroke="#b93333" stroke-width="1"/>
<rect x="1224.0" y="446.6" width="2" height="61.1" fill="#13855f"/>
<rect x="1219.0" y="484.3" width="12" height="7.2" fill="#1bae7d" stroke="#13855f" stroke-width="1"/>
<rect x="1241.0" y="428.0" width="2" height="60.0" fill="#13855f"/>
<rect x="1236.0" y="447.0" width="12" height="26.0" fill="#1bae7d" stroke="#13855f" stroke-width="1"/>
<rect x="1255.0" y="435.7" width="2" height="20.1" fill="#13855f"/>
<rect x="1250.0" y="441.0" width="12" height="5.6" fill="#1bae7d" stroke="#13855f" stroke-width="1"/>
<rect x="1269.6" y="383.0" width="2" height="64.0" fill="#13855f"/>
<rect x="1264.6" y="399.0" width="12" height="40.8" fill="#1bae7d" stroke="#13855f" stroke-width="1"/>
<rect x="1284.7" y="354.0" width="2" height="105.7" fill="#13855f"/>
<rect x="1279.7" y="397.0" width="12" height="23.6" fill="#1bae7d" stroke="#13855f" stroke-width="1"/>
<rect x="1301.0" y="393.0" width="2" height="73.5" fill="#b93333"/>
<rect x="1296.0" y="396.6" width="12" height="43.0" fill="#ea494c" stroke="#b93333" stroke-width="1"/>
<rect x="1316.0" y="419.6" width="2" height="44.0" fill="#b93333"/>
<rect x="1311.0" y="433.0" width="12" height="14.6" fill="#ea494c" stroke="#b93333" stroke-width="1"/>
<rect x="1332.0" y="368.5" width="2" height="79.1" fill="#13855f"/>
<rect x="1327.0" y="397.0" width="12" height="50.6" fill="#1bae7d" stroke="#13855f" stroke-width="1"/>
<rect x="1348.5" y="367.0" width="2" height="49.7" fill="#b93333"/>
<rect x="1343.5" y="393.0" width="12" height="18.0" fill="#ea494c" stroke="#b93333" stroke-width="1"/>
<rect x="1363.7" y="328.0" width="2" height="92.0" fill="#13855f"/>
<rect x="1358.7" y="378.0" width="12" height="32.5" fill="#1bae7d" stroke="#13855f" stroke-width="1"/>
<rect x="1379.0" y="307.0" width="2" height="76.4" fill="#13855f"/>
<rect x="1374.0" y="346.0" width="12" height="37.4" fill="#1bae7d" stroke="#13855f" stroke-width="1"/>
<rect x="1394.0" y="329.0" width="2" height="34.5" fill="#13855f"/>
<rect x="1389.0" y="332.0" width="12" height="14.0" fill="#1bae7d" stroke="#13855f" stroke-width="1"/>
<rect x="1410.0" y="292.0" width="2" height="50.0" fill="#13855f"/>
<rect x="1405.0" y="310.0" width="12" height="25.6" fill="#1bae7d" stroke="#13855f" stroke-width="1"/>
<rect x="1426.0" y="290.0" width="2" height="27.6" fill="#13855f"/>
<rect x="1421.0" y="310.0" width="12" height="7.6" fill="#1bae7d" stroke="#13855f" stroke-width="1"/>
<rect x="1442.0" y="290.0" width="2" height="51.0" fill="#b93333"/>
<rect x="1437.0" y="310.0" width="12" height="13.5" fill="#ea494c" stroke="#b93333" stroke-width="1"/>
<rect x="1458.0" y="300.0" width="2" height="30.0" fill="#13855f"/>
<rect x="1453.0" y="309.0" width="12" height="14.5" fill="#1bae7d" stroke="#13855f" stroke-width="1"/>
<rect x="1219" y="472.5" width="12" height="2" fill="#13855f"/>
<rect x="3.0" y="166.8" width="13" height="1.6" fill="#a9dcc7"/>
<rect x="16.0" y="159.2" width="13" height="1.6" fill="#b5e2d0"/>
<rect x="64.5" y="178.5" width="13" height="1.6" fill="#b5e2d0"/>
<rect x="141.0" y="294.0" width="13" height="1.6" fill="#f2bcbc"/>
<rect x="967.0" y="724.8" width="12" height="1.6" fill="#c9d9d2"/>
<rect x="384.0" y="358.0" width="12" height="1.6" fill="#cfcfcf"/>
<rect x="1310.5" y="447.6" width="13" height="5" fill="#f1a4a4"/>
<rect x="100.5" y="195" width="2" height="32" fill="#13855f"/>
<rect x="1314" y="452" width="1" height="11" fill="#f3b8b8"/><rect x="1319" y="452" width="1" height="11" fill="#f3b8b8"/>
</svg>
<div class="buy"><span>BUY</span></div>
<svg width="1457" height="1024" style="position:absolute;left:0;top:0">
<g fill="none" stroke="#0b0b0b" stroke-width="6.3" stroke-linecap="round" stroke-linejoin="round">
<path d="M973.4,823.7 L989,823.7 C995.5,823.7 998.4,828 998.4,833 C998.4,838.5 995,842.5 989,842.5 L973.4,842.5 M989,842.5 L990.5,842.5 C997,842.5 1000.4,846.5 1000.4,851.5 C1000.4,857 996.5,860.6 990,860.6 L973.4,860.6 L973.4,823.7"/>
<path d="M1013.1,823.7 L1013.1,847 C1013.1,856 1018,861 1026.2,861 C1034.4,861 1039.3,856 1039.3,847 L1039.3,823.7"/>
<path d="M1051,824 L1066,844.5 L1080.3,824 M1066,844.5 L1066,861"/>
</g></svg>
</body></html>
